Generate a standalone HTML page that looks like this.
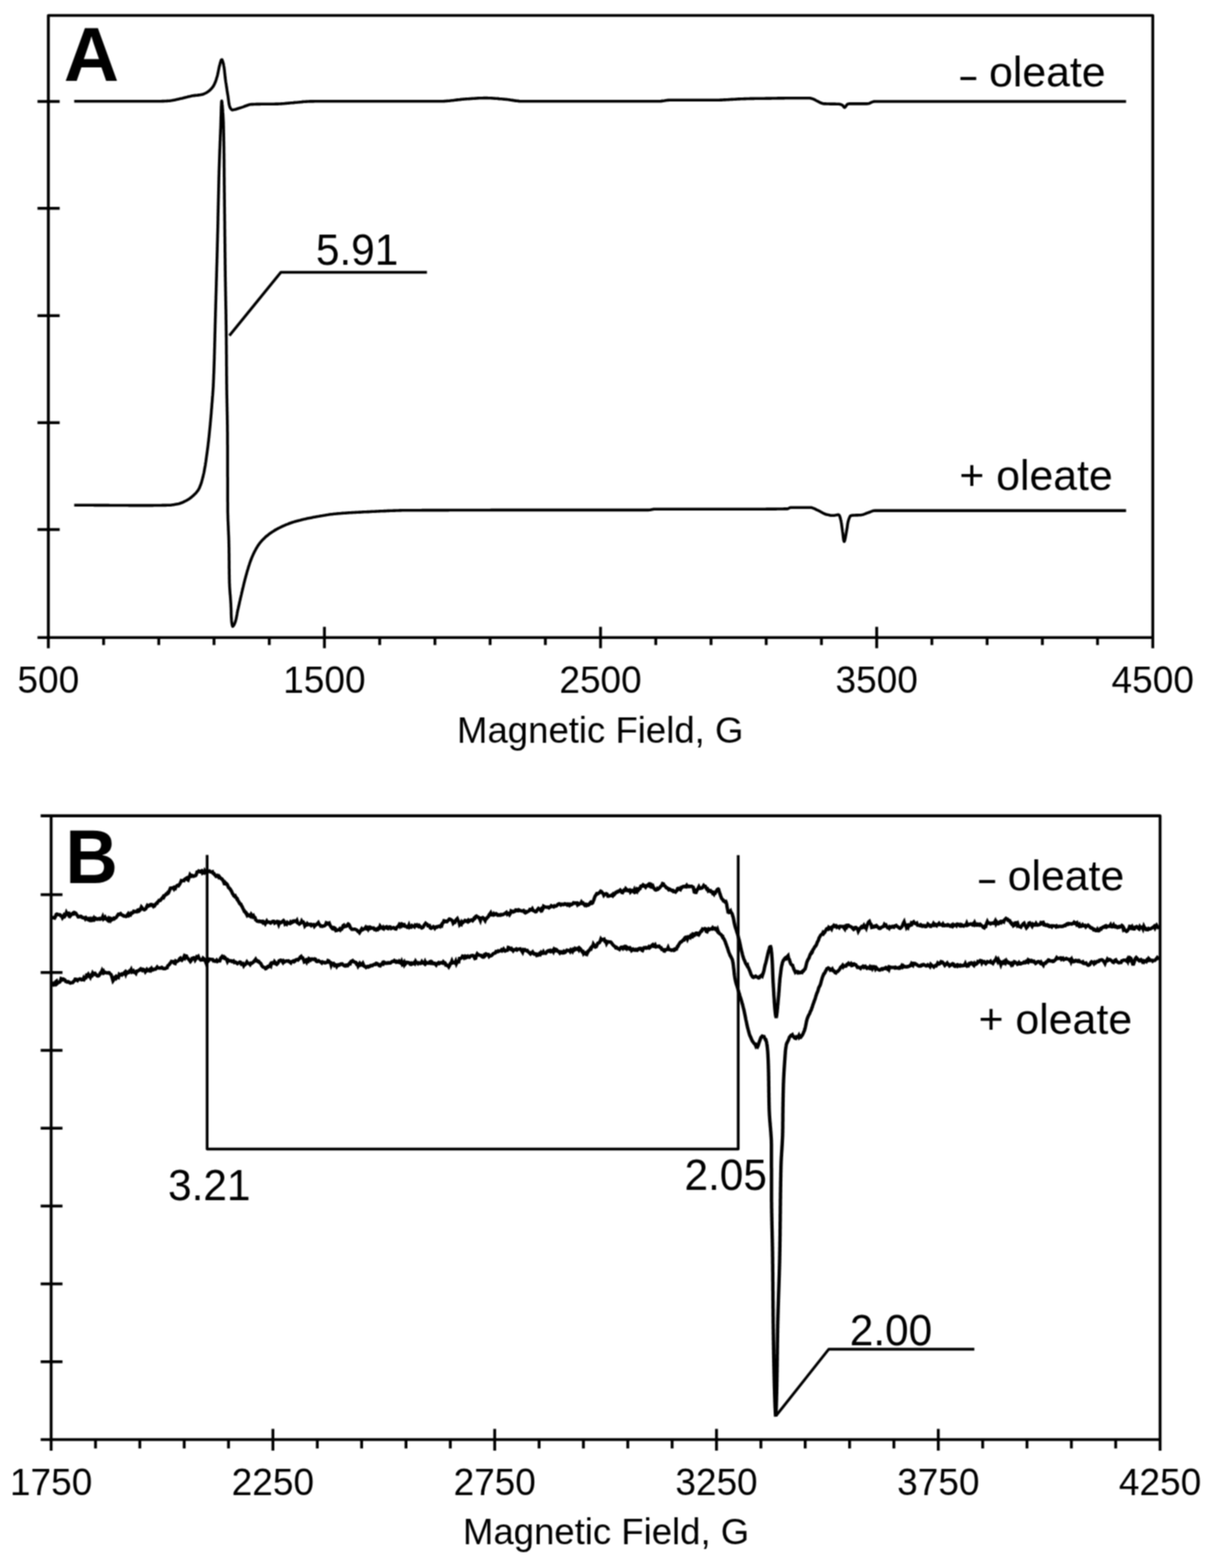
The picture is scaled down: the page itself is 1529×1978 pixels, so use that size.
<!DOCTYPE html>
<html lang="en">
<head>
<meta charset="utf-8">
<title>EPR spectra</title>
<style>
html,body{margin:0;padding:0;background:#fff;}
body{width:1529px;height:1978px;overflow:hidden;}
svg{display:block;}
text{font-family:"Liberation Sans",sans-serif;fill:#000;}
</style>
</head>
<body>
<svg width="1529" height="1978" viewBox="0 0 1529 1978">
<defs><filter id="soft" x="0" y="0" width="1529" height="1978" filterUnits="userSpaceOnUse" color-interpolation-filters="sRGB"><feConvolveMatrix order="3" kernelMatrix="1 2 1 2 4 2 1 2 1" divisor="16" edgeMode="duplicate" preserveAlpha="false"/></filter></defs>
<g filter="url(#soft)">
<rect x="0" y="0" width="1529" height="1978" fill="#fff"/>
<path d="M61 817.7 V19.5 H1454.3 V817.7" fill="none" stroke="#000" stroke-width="3.6" stroke-linejoin="round"/>
<line x1="47.3" y1="804.2" x2="1454.3" y2="804.2" stroke="#000" stroke-width="3.6"/>
<line x1="47.3" y1="128" x2="75.3" y2="128" stroke="#000" stroke-width="3.6"/>
<line x1="47.3" y1="262.8" x2="75.3" y2="262.8" stroke="#000" stroke-width="3.6"/>
<line x1="47.3" y1="398.2" x2="75.3" y2="398.2" stroke="#000" stroke-width="3.6"/>
<line x1="47.3" y1="533.2" x2="75.3" y2="533.2" stroke="#000" stroke-width="3.6"/>
<line x1="47.3" y1="668" x2="75.3" y2="668" stroke="#000" stroke-width="3.6"/>
<line x1="130.7" y1="804.2" x2="130.7" y2="813.7" stroke="#000" stroke-width="3.6"/>
<line x1="200.3" y1="804.2" x2="200.3" y2="813.7" stroke="#000" stroke-width="3.6"/>
<line x1="270" y1="804.2" x2="270" y2="813.7" stroke="#000" stroke-width="3.6"/>
<line x1="339.7" y1="804.2" x2="339.7" y2="813.7" stroke="#000" stroke-width="3.6"/>
<line x1="409.3" y1="790.7" x2="409.3" y2="817.7" stroke="#000" stroke-width="3.6"/>
<line x1="479" y1="804.2" x2="479" y2="813.7" stroke="#000" stroke-width="3.6"/>
<line x1="548.7" y1="804.2" x2="548.7" y2="813.7" stroke="#000" stroke-width="3.6"/>
<line x1="618.3" y1="804.2" x2="618.3" y2="813.7" stroke="#000" stroke-width="3.6"/>
<line x1="688" y1="804.2" x2="688" y2="813.7" stroke="#000" stroke-width="3.6"/>
<line x1="757.6" y1="790.7" x2="757.6" y2="817.7" stroke="#000" stroke-width="3.6"/>
<line x1="827.3" y1="804.2" x2="827.3" y2="813.7" stroke="#000" stroke-width="3.6"/>
<line x1="897" y1="804.2" x2="897" y2="813.7" stroke="#000" stroke-width="3.6"/>
<line x1="966.6" y1="804.2" x2="966.6" y2="813.7" stroke="#000" stroke-width="3.6"/>
<line x1="1036.3" y1="804.2" x2="1036.3" y2="813.7" stroke="#000" stroke-width="3.6"/>
<line x1="1106" y1="790.7" x2="1106" y2="817.7" stroke="#000" stroke-width="3.6"/>
<line x1="1175.6" y1="804.2" x2="1175.6" y2="813.7" stroke="#000" stroke-width="3.6"/>
<line x1="1245.3" y1="804.2" x2="1245.3" y2="813.7" stroke="#000" stroke-width="3.6"/>
<line x1="1315" y1="804.2" x2="1315" y2="813.7" stroke="#000" stroke-width="3.6"/>
<line x1="1384.6" y1="804.2" x2="1384.6" y2="813.7" stroke="#000" stroke-width="3.6"/>
<text x="0" y="0" font-size="46.7" text-anchor="middle" font-weight="normal" transform="translate(61 873.6) scale(1.0 1.045)" >500</text>
<text x="0" y="0" font-size="46.7" text-anchor="middle" font-weight="normal" transform="translate(409.3 873.6) scale(1.0 1.045)" >1500</text>
<text x="0" y="0" font-size="46.7" text-anchor="middle" font-weight="normal" transform="translate(757.6 873.6) scale(1.0 1.045)" >2500</text>
<text x="0" y="0" font-size="46.7" text-anchor="middle" font-weight="normal" transform="translate(1106 873.6) scale(1.0 1.045)" >3500</text>
<text x="0" y="0" font-size="46.7" text-anchor="middle" font-weight="normal" transform="translate(1454.3 873.6) scale(1.0 1.045)" >4500</text>
<text x="757.2" y="937" font-size="46.1" text-anchor="middle" font-weight="normal" >Magnetic Field, G</text>
<text x="0" y="0" font-size="93" text-anchor="start" font-weight="bold" transform="translate(80.6 101.9) scale(1.037 1.04)" >A</text>
<polyline points="93.6,127.8 95.1,127.8 96.6,127.8 98.1,127.8 99.6,127.8 101.1,127.8 102.6,127.8 104.1,127.8 105.6,127.8 107.1,127.8 108.6,127.8 110.1,127.8 111.6,127.8 113.1,127.8 114.6,127.8 116.1,127.8 117.6,127.8 119.1,127.8 120.6,127.8 122.1,127.8 123.7,127.8 125.2,127.8 126.7,127.8 128.2,127.8 129.7,127.8 131.2,127.8 132.7,127.8 134.2,127.8 135.7,127.8 137.2,127.8 138.7,127.8 140.2,127.8 141.7,127.8 143.2,127.8 144.7,127.8 146.2,127.8 147.7,127.8 149.2,127.8 150.7,127.8 152.2,127.8 153.7,127.8 155.2,127.8 156.7,127.8 158.2,127.8 159.7,127.8 161.2,127.8 162.7,127.8 164.2,127.8 165.7,127.8 167.2,127.8 168.7,127.8 170.2,127.8 171.7,127.8 173.2,127.8 174.7,127.8 176.2,127.8 177.7,127.8 179.2,127.8 180.8,127.8 182.3,127.8 183.8,127.8 185.3,127.8 186.8,127.7 188.3,127.7 189.8,127.7 191.3,127.7 192.8,127.7 194.3,127.7 195.8,127.7 197.3,127.7 198.8,127.7 200.3,127.7 201.8,127.7 203.3,127.7 204.8,127.6 206.3,127.6 207.8,127.5 209.3,127.5 210.8,127.4 212.3,127.3 213.8,127.2 215.3,127 216.7,126.8 218.2,126.5 219.7,126.2 221.2,125.9 222.7,125.6 224.1,125.2 225.6,124.9 227.1,124.6 228.5,124.3 230,124 231.5,123.6 232.9,123.2 234.4,122.8 235.8,122.5 237.3,122.1 238.8,121.7 240.2,121.4 241.7,121.1 243.2,120.8 244.7,120.6 246.2,120.4 247.7,120.2 249.2,120.1 250.7,119.9 252.2,119.7 253.6,119.4 255.1,119.2 256.5,118.8 257.9,118.2 259.3,117.5 260.6,116.8 261.9,116 263.1,115.1 264.3,114.2 265.4,113.2 266.5,112.1 267.5,110.9 268.5,109.7 269.3,108.5 270,107.2 270.6,105.9 271.2,104.6 271.8,103.2 272.3,101.7 272.8,100.3 273.2,98.8 273.7,97.3 274.1,95.9 274.5,94.4 274.8,93 275.1,91.5 275.4,90 275.7,88.5 276,87.1 276.3,85.6 276.6,84.1 277,82.7 277.4,81.2 277.8,79.5 278.4,77.7 278.9,76.1 279.5,75.2 280.1,75.3 280.6,76.5 281.2,78.2 281.7,80 282.1,81.7 282.3,83.1 282.6,84.6 282.8,86.1 283,87.5 283.2,89 283.3,90.5 283.5,92 283.6,93.5 283.8,95 284,96.6 284.1,98.1 284.3,99.5 284.5,101 284.7,102.5 284.9,104 285.2,105.5 285.4,107 285.6,108.5 285.8,110 286.1,111.4 286.3,112.9 286.5,114.4 286.7,115.9 287,117.4 287.2,118.9 287.5,120.3 287.7,121.8 287.9,123.4 288.1,124.9 288.3,126.5 288.5,128 288.7,129.5 288.9,131 289.2,132.4 289.6,133.8 290,135.1 290.8,136.7 291.8,138 292.9,138.7 294.1,138.6 295.5,138.3 297,138 298.5,137.5 300.1,137 301.6,136.5 303.1,136.1 304.5,135.6 306,135.1 307.4,134.6 308.8,134 310.3,133.5 311.7,133 313.1,132.5 314.6,132.1 316,131.8 317.5,131.6 318.9,131.6 320.4,131.5 321.9,131.5 323.4,131.4 324.9,131.4 326.3,131.4 327.8,131.4 329.3,131.3 330.9,131.3 332.4,131.3 333.9,131.3 335.4,131.3 336.9,131.3 338.4,131.2 339.9,131.2 341.4,131.2 342.9,131.2 344.5,131.2 346,131.2 347.5,131.1 349,131.1 350.5,131.1 352,131 353.5,131 355,130.9 356.5,130.8 358,130.7 359.5,130.5 361,130.4 362.5,130.3 364,130.1 365.5,130 367,129.8 368.5,129.7 370,129.6 371.5,129.4 373,129.3 374.5,129.2 376,129 377.5,128.9 379,128.7 380.5,128.6 382,128.4 383.5,128.3 384.9,128.2 386.4,128.1 387.9,128 389.4,128 390.9,127.9 392.4,127.9 393.9,127.9 395.4,127.9 396.9,127.8 398.5,127.8 400,127.8 401.5,127.8 403,127.8 404.5,127.8 406,127.8 407.5,127.7 409,127.7 410.5,127.7 412,127.7 413.5,127.7 415,127.7 416.5,127.7 418,127.7 419.5,127.7 421,127.7 422.5,127.7 424,127.7 425.5,127.7 427,127.7 428.5,127.7 430,127.7 431.5,127.7 433,127.7 434.5,127.7 436,127.7 437.5,127.7 439,127.7 440.5,127.7 442,127.7 443.5,127.7 445,127.7 446.5,127.7 448.1,127.7 449.6,127.7 451.1,127.7 452.6,127.7 454.1,127.7 455.6,127.7 457.1,127.7 458.6,127.7 460.1,127.7 461.6,127.7 463.1,127.7 464.6,127.7 466.1,127.7 467.6,127.7 469.1,127.7 470.6,127.7 472.1,127.7 473.6,127.7 475.1,127.7 476.6,127.7 478.1,127.7 479.6,127.7 481.1,127.7 482.6,127.7 484.1,127.7 485.6,127.7 487.2,127.7 488.7,127.7 490.2,127.7 491.7,127.7 493.2,127.7 494.7,127.7 496.2,127.7 497.7,127.7 499.2,127.7 500.7,127.7 502.2,127.7 503.7,127.7 505.2,127.7 506.7,127.7 508.2,127.7 509.7,127.7 511.2,127.7 512.7,127.7 514.2,127.7 515.7,127.7 517.2,127.7 518.7,127.7 520.2,127.7 521.7,127.7 523.2,127.7 524.7,127.7 526.2,127.7 527.7,127.7 529.2,127.7 530.7,127.7 532.2,127.7 533.7,127.7 535.2,127.7 536.7,127.7 538.2,127.7 539.7,127.7 541.2,127.7 542.7,127.7 544.2,127.7 545.7,127.7 547.2,127.7 548.7,127.7 550.2,127.7 551.7,127.7 553.2,127.7 554.7,127.7 556.2,127.7 557.7,127.7 559.2,127.7 560.7,127.6 562.2,127.5 563.7,127.4 565.2,127.3 566.7,127.2 568.2,127 569.7,126.8 571.2,126.7 572.7,126.5 574.2,126.3 575.7,126.1 577.2,125.9 578.7,125.7 580.2,125.6 581.7,125.4 583.2,125.3 584.7,125.1 586.2,125 587.7,124.9 589.2,124.8 590.7,124.7 592.2,124.6 593.7,124.5 595.2,124.4 596.7,124.3 598.2,124.2 599.7,124.1 601.2,124 602.7,123.9 604.2,123.8 605.7,123.8 607.2,123.7 608.7,123.7 610.2,123.6 611.7,123.6 613.2,123.6 614.7,123.6 616.2,123.7 617.7,123.7 619.2,123.8 620.7,123.9 622.2,124 623.7,124.1 625.2,124.2 626.7,124.3 628.2,124.4 629.7,124.6 631.2,124.7 632.7,124.8 634.2,125 635.7,125.1 637.1,125.3 638.6,125.4 640.1,125.5 641.6,125.7 643.1,125.9 644.6,126.2 646.1,126.4 647.6,126.6 649.1,126.9 650.6,127.1 652.1,127.3 653.6,127.4 655.1,127.6 656.5,127.7 658,127.7 659.5,127.7 661,127.7 662.5,127.7 664,127.7 665.5,127.7 667,127.7 668.5,127.7 670,127.7 671.5,127.7 673,127.7 674.5,127.7 676,127.7 677.5,127.7 679,127.7 680.5,127.7 682,127.7 683.5,127.7 685,127.7 686.5,127.7 688,127.7 689.5,127.7 691,127.7 692.5,127.7 694,127.7 695.5,127.7 697,127.7 698.5,127.7 700,127.7 701.5,127.7 703,127.7 704.5,127.7 706.1,127.7 707.6,127.7 709.1,127.7 710.6,127.7 712.1,127.7 713.6,127.7 715.1,127.7 716.6,127.7 718.1,127.7 719.6,127.7 721.1,127.7 722.6,127.7 724.1,127.7 725.6,127.7 727.1,127.7 728.6,127.7 730.1,127.7 731.6,127.7 733.1,127.7 734.6,127.7 736.1,127.7 737.7,127.7 739.2,127.7 740.7,127.7 742.2,127.7 743.7,127.7 745.2,127.7 746.7,127.7 748.2,127.7 749.7,127.7 751.2,127.7 752.7,127.7 754.2,127.7 755.7,127.7 757.2,127.7 758.7,127.7 760.2,127.7 761.7,127.7 763.2,127.7 764.7,127.7 766.3,127.7 767.8,127.7 769.3,127.7 770.8,127.7 772.3,127.7 773.8,127.7 775.3,127.7 776.8,127.7 778.3,127.7 779.8,127.7 781.3,127.7 782.8,127.7 784.3,127.7 785.8,127.7 787.3,127.7 788.8,127.7 790.3,127.7 791.8,127.7 793.3,127.7 794.8,127.7 796.3,127.7 797.8,127.7 799.3,127.7 800.8,127.7 802.3,127.7 803.8,127.7 805.3,127.7 806.9,127.7 808.4,127.7 809.9,127.7 811.4,127.7 812.9,127.7 814.4,127.7 815.9,127.7 817.4,127.7 818.9,127.7 820.4,127.7 821.9,127.7 823.4,127.7 824.8,127.7 826.3,127.7 827.8,127.7 829.3,127.7 830.8,127.7 832.3,127.7 833.8,127.6 835.3,127.4 836.8,127.2 838.3,127 839.8,126.7 841.3,126.5 842.8,126.4 844.3,126.3 845.8,126.3 847.3,126.3 848.8,126.3 850.3,126.3 851.8,126.3 853.3,126.3 854.8,126.3 856.3,126.3 857.8,126.3 859.3,126.3 860.8,126.3 862.3,126.3 863.8,126.3 865.3,126.3 866.8,126.3 868.3,126.3 869.8,126.3 871.3,126.3 872.8,126.3 874.3,126.3 875.8,126.3 877.3,126.3 878.8,126.3 880.3,126.3 881.8,126.3 883.3,126.3 884.8,126.3 886.4,126.3 887.9,126.3 889.4,126.3 890.9,126.3 892.4,126.3 893.9,126.3 895.4,126.3 896.9,126.3 898.4,126.3 899.9,126.3 901.4,126.3 902.9,126.3 904.4,126.3 905.9,126.2 907.4,126.2 908.9,126.1 910.4,126.1 911.9,126 913.4,125.9 914.9,125.9 916.4,125.8 917.9,125.7 919.4,125.6 920.9,125.5 922.4,125.4 923.9,125.4 925.4,125.3 926.9,125.2 928.4,125.1 929.9,125 931.4,124.9 932.9,124.9 934.4,124.8 935.9,124.7 937.4,124.7 938.9,124.6 940.4,124.6 941.9,124.5 943.4,124.5 944.9,124.5 946.4,124.4 947.9,124.4 949.4,124.4 951,124.4 952.5,124.3 954,124.3 955.5,124.3 957,124.3 958.5,124.2 960,124.2 961.6,124.2 963.1,124.2 964.6,124.2 966.1,124.1 967.6,124.1 969.2,124.1 970.7,124.1 972.2,124.1 973.7,124 975.2,124 976.8,124 978.3,124 979.8,124 981.3,123.9 982.8,123.9 984.4,123.9 985.9,123.9 987.4,123.9 988.9,123.9 990.4,123.8 991.9,123.8 993.4,123.8 994.9,123.8 996.4,123.8 997.9,123.8 999.4,123.8 1000.9,123.8 1002.4,123.8 1003.9,123.7 1005.4,123.7 1006.9,123.7 1008.3,123.7 1009.8,123.7 1011.3,123.7 1012.8,123.7 1014.2,123.7 1015.7,123.7 1017.2,123.7 1018.6,123.7 1020.1,123.7 1021.5,123.7 1022.9,124 1024.4,124.4 1025.8,124.9 1027.2,125.5 1028.6,126.2 1029.9,127 1031.3,127.7 1032.7,128.4 1034.1,129.1 1035.5,129.8 1037,130.3 1038.4,130.7 1039.8,130.9 1041.3,130.9 1042.8,131 1044.3,131 1045.8,131 1047.3,131.1 1048.8,131.1 1050.3,131.1 1051.8,131.1 1053.4,131.1 1054.9,131.2 1056.4,131.2 1057.8,131.3 1059.3,131.4 1060.8,131.8 1062.2,132.4 1063.4,133.3 1064.4,134.8 1065.4,135.6 1066.4,135 1067.3,133.6 1068.3,132.2 1069.5,131.3 1071,130.9 1072.4,130.9 1073.8,130.9 1075.3,130.9 1076.8,130.9 1078.3,130.9 1079.8,130.9 1081.4,130.9 1082.9,130.9 1084.4,130.9 1086,130.9 1087.5,130.9 1089,130.9 1090.5,130.9 1092,130.9 1093.5,130.9 1095,130.8 1096.4,130.5 1097.8,129.9 1099.2,129.2 1100.7,128.6 1102.1,128.1 1103.5,128 1105,128 1106.5,128 1107.9,128 1109.4,128 1110.9,128 1112.3,128 1113.8,128 1115.3,128 1116.8,128 1118.2,128 1119.7,128 1121.2,128 1122.7,128 1124.2,128 1125.7,128 1127.2,128 1128.7,128 1130.2,128 1131.7,128 1133.2,128 1134.7,128 1136.2,128 1137.7,128 1139.2,128 1140.7,128 1142.2,128 1143.7,128 1145.2,128 1146.7,128 1148.2,128 1149.7,128 1151.3,128 1152.8,128 1154.3,128 1155.8,128 1157.3,128 1158.8,128 1160.4,128 1161.9,128 1163.4,128 1164.9,128 1166.4,128 1167.9,128 1169.5,128 1171,128 1172.5,128 1174,128 1175.5,128 1177.1,128 1178.6,128 1180.1,128 1181.6,128 1183.1,128 1184.6,128 1186.1,128 1187.7,128 1189.2,128 1190.7,128 1192.2,128 1193.7,128 1195.2,128 1196.7,128 1198.2,128 1199.7,128 1201.2,128 1202.7,128 1204.2,128 1205.7,128 1207.2,128 1208.7,128 1210.2,128 1211.7,128 1213.2,128 1214.7,128 1216.3,128 1217.8,128 1219.3,128 1220.8,128 1222.3,128 1223.8,128 1225.3,128 1226.8,128 1228.3,128 1229.8,128 1231.3,128 1232.8,128 1234.3,128 1235.8,128 1237.3,128 1238.8,128 1240.3,128 1241.8,128 1243.3,128 1244.8,128 1246.3,128 1247.8,128 1249.3,128 1250.8,128 1252.3,128 1253.8,128 1255.3,128 1256.8,128 1258.3,128 1259.8,128 1261.3,128 1262.8,128 1264.3,128 1265.8,128 1267.3,128 1268.8,128 1270.3,128 1271.8,128 1273.3,128 1274.9,128 1276.4,128 1277.9,128 1279.4,128 1280.9,128 1282.4,128 1283.9,128 1285.4,128 1286.9,128 1288.4,128 1289.9,128 1291.4,128 1292.9,128 1294.4,128 1295.9,128 1297.4,128 1298.9,128 1300.4,128 1301.9,128 1303.4,128 1304.9,128 1306.4,128 1307.9,128 1309.4,128 1310.9,128 1312.4,128 1313.9,128 1315.4,128 1316.9,128 1318.4,128 1319.9,128 1321.4,128 1322.9,128 1324.4,128 1325.9,128 1327.4,128 1328.9,128 1330.4,128 1331.9,128 1333.5,128 1335,128 1336.5,128 1338,128 1339.5,128 1341,128 1342.5,128 1344,128 1345.5,128 1347,128 1348.5,128 1350,128 1351.5,128 1353,128 1354.5,128 1356,128 1357.5,128 1359,128 1360.5,128 1362,128 1363.5,128 1365,128 1366.5,128 1368,128 1369.5,128 1371,128 1372.5,128 1374,128 1375.5,128 1377,128 1378.5,128 1380,128 1381.5,128 1383,128 1384.5,128 1386,128 1387.5,128 1389,128 1390.5,128 1392.1,128 1393.6,128 1395.1,128 1396.6,128 1398.1,128 1399.6,128 1401.1,128 1402.6,128 1404.1,128 1405.6,128 1407.1,128 1408.6,128 1410.1,128 1411.6,128 1413.1,128 1414.6,128 1416.1,128 1417.6,128 1419.1,128 1420.6,128" fill="none" stroke="#000" stroke-width="3.6" stroke-linejoin="round" stroke-linecap="butt" />
<polyline points="93.6,637.2 95.1,637.2 96.6,637.2 98.1,637.2 99.6,637.2 101.1,637.2 102.6,637.3 104.1,637.3 105.6,637.3 107.1,637.3 108.6,637.3 110.1,637.3 111.6,637.3 113.1,637.3 114.6,637.3 116.1,637.3 117.6,637.3 119.1,637.4 120.6,637.4 122.1,637.4 123.6,637.4 125.1,637.4 126.6,637.4 128.1,637.4 129.6,637.4 131.1,637.4 132.6,637.4 134.1,637.4 135.6,637.4 137.1,637.4 138.6,637.5 140.1,637.5 141.6,637.5 143.1,637.5 144.6,637.5 146.2,637.5 147.7,637.5 149.2,637.5 150.7,637.5 152.2,637.5 153.7,637.5 155.2,637.5 156.7,637.5 158.2,637.5 159.7,637.5 161.2,637.5 162.7,637.6 164.2,637.6 165.7,637.6 167.2,637.6 168.7,637.6 170.2,637.6 171.7,637.6 173.2,637.6 174.7,637.6 176.2,637.6 177.7,637.6 179.2,637.6 180.7,637.6 182.2,637.6 183.7,637.6 185.2,637.6 186.7,637.6 188.2,637.6 189.7,637.6 191.2,637.6 192.7,637.6 194.2,637.5 195.7,637.5 197.2,637.5 198.7,637.5 200.2,637.5 201.7,637.5 203.2,637.5 204.7,637.4 206.2,637.4 207.7,637.4 209.2,637.4 210.7,637.3 212.2,637.3 213.7,637.3 215.2,637.2 216.7,637 218.2,636.8 219.7,636.6 221.2,636.3 222.7,636 224.2,635.7 225.6,635.4 227,635 228.4,634.5 229.8,634 231.3,633.4 232.6,632.7 234,632 235.4,631.3 236.7,630.5 238,629.7 239.2,628.9 240.4,628 241.5,627.2 242.7,626.2 243.9,625.2 245,624.1 246.1,623 247.2,621.9 248.2,620.7 249.1,619.5 250,618.3 250.7,617 251.4,615.8 252,614.5 252.5,613.1 253.1,611.8 253.6,610.3 254.1,608.9 254.5,607.4 254.9,605.9 255.3,604.4 255.7,602.9 256.1,601.5 256.4,600 256.7,598.6 257.1,597.1 257.4,595.6 257.7,594.2 257.9,592.7 258.2,591.2 258.5,589.7 258.7,588.3 259,586.8 259.2,585.3 259.4,583.8 259.7,582.3 259.9,580.8 260.1,579.3 260.3,577.8 260.5,576.3 260.7,574.8 260.9,573.4 261.1,571.9 261.3,570.4 261.5,568.9 261.7,567.4 261.9,565.9 262.1,564.4 262.3,562.9 262.5,561.5 262.6,560 262.8,558.5 263,557 263.2,555.5 263.3,554 263.5,552.5 263.7,551 263.8,549.5 264,548 264.1,546.5 264.3,545 264.4,543.5 264.6,542 264.7,540.5 264.9,539.1 265,537.6 265.2,536.1 265.3,534.6 265.4,533.1 265.6,531.6 265.7,530.1 265.8,528.6 266,527.1 266.1,525.6 266.2,524.1 266.4,522.6 266.5,521.1 266.6,519.6 266.7,518.1 266.8,516.6 267,515.1 267.1,513.6 267.2,512.1 267.3,510.6 267.4,509.1 267.6,507.6 267.7,506.1 267.8,504.6 267.9,503.1 268,501.6 268.1,500.2 268.3,498.7 268.4,497.2 268.5,495.7 268.6,494.2 268.7,492.7 268.8,491.2 268.9,489.7 269,488.2 269.1,486.7 269.1,485.2 269.2,483.7 269.3,482.2 269.3,480.7 269.4,479.2 269.5,477.7 269.5,476.2 269.6,474.7 269.6,473.2 269.7,471.7 269.8,470.2 269.8,468.7 269.9,467.2 269.9,465.7 270,464.2 270,462.7 270.1,461.2 270.1,459.7 270.2,458.2 270.2,456.7 270.3,455.2 270.3,453.7 270.4,452.2 270.4,450.7 270.4,449.2 270.5,447.7 270.5,446.2 270.6,444.7 270.6,443.2 270.6,441.7 270.7,440.2 270.7,438.7 270.8,437.2 270.8,435.7 270.8,434.2 270.9,432.7 270.9,431.2 271,429.7 271,428.2 271,426.6 271.1,425.1 271.1,423.6 271.1,422.1 271.2,420.6 271.2,419.1 271.3,417.6 271.3,416.1 271.3,414.6 271.4,413.1 271.4,411.6 271.4,410.1 271.5,408.6 271.5,407.1 271.6,405.6 271.6,404.1 271.6,402.6 271.7,401.1 271.7,399.6 271.8,398.1 271.8,396.6 271.8,395.1 271.9,393.6 271.9,392.1 272,390.6 272,389.1 272.1,387.6 272.1,386.1 272.1,384.6 272.2,383.1 272.2,381.6 272.3,380.1 272.3,378.6 272.4,377.1 272.4,375.6 272.4,374.1 272.5,372.6 272.5,371.1 272.6,369.6 272.6,368.1 272.7,366.6 272.7,365.1 272.7,363.6 272.8,362.1 272.8,360.6 272.9,359.1 272.9,357.6 272.9,356.1 273,354.6 273,353.1 273.1,351.6 273.1,350.1 273.2,348.6 273.2,347.1 273.2,345.6 273.3,344.1 273.3,342.6 273.4,341.1 273.4,339.6 273.4,338.1 273.5,336.6 273.5,335.1 273.6,333.6 273.6,332.1 273.7,330.6 273.7,329.1 273.7,327.6 273.8,326.1 273.8,324.6 273.9,323.1 273.9,321.6 273.9,320.1 274,318.6 274,317.1 274.1,315.6 274.1,314.1 274.1,312.6 274.2,311.1 274.2,309.6 274.2,308.1 274.3,306.6 274.3,305.1 274.4,303.6 274.4,302.1 274.4,300.6 274.5,299.1 274.5,297.6 274.5,296.1 274.6,294.6 274.6,293.1 274.7,291.6 274.7,290.1 274.7,288.6 274.8,287.1 274.8,285.6 274.8,284.1 274.9,282.6 274.9,281.1 274.9,279.5 275,278 275,276.5 275,275 275,273.5 275.1,272 275.1,270.5 275.1,269 275.2,267.5 275.2,266 275.2,264.5 275.3,263 275.3,261.5 275.3,260 275.4,258.5 275.4,257 275.4,255.5 275.5,254 275.5,252.5 275.5,251 275.6,249.5 275.6,248 275.6,246.5 275.7,245 275.7,243.5 275.7,242 275.8,240.5 275.8,239 275.8,237.5 275.9,236 275.9,234.5 275.9,233 276,231.5 276,230 276,228.5 276.1,227 276.1,225.5 276.1,224 276.2,222.5 276.2,221 276.3,219.5 276.3,218 276.3,216.5 276.4,215 276.4,213.5 276.5,212 276.5,210.5 276.6,209 276.6,207.5 276.7,206 276.7,204.5 276.8,203 276.8,201.5 276.9,200 276.9,198.5 277,197 277,195.5 277.1,194 277.1,192.5 277.2,191 277.2,189.5 277.3,188 277.4,186.5 277.4,185 277.5,183.5 277.5,182 277.6,180.5 277.6,179 277.7,177.5 277.8,176 277.8,174.5 277.9,173 277.9,171.5 278,170 278.1,168.5 278.1,167 278.2,165.5 278.2,164 278.3,162.5 278.4,161 278.4,159.5 278.5,157.9 278.5,156.1 278.6,154.3 278.6,152.4 278.7,150.5 278.7,148.5 278.8,146.5 278.9,144.5 278.9,142.6 279,140.6 279,138.7 279.1,136.9 279.1,135.2 279.2,133.6 279.3,132.2 279.3,130.9 279.4,129.8 279.4,128.8 279.5,128.1 279.6,127.6 279.7,127.3 279.7,127.3 279.8,127.7 279.9,128.2 280.1,129.1 280.2,130.1 280.3,131.4 280.5,132.8 280.6,134.4 280.7,136.1 280.9,137.9 281,139.8 281.1,141.7 281.3,143.7 281.4,145.7 281.5,147.7 281.6,149.6 281.7,151.5 281.8,153.3 281.9,155 281.9,156.6 281.9,158.1 282,159.6 282,161.1 282,162.6 282.1,164.1 282.1,165.6 282.1,167.1 282.2,168.6 282.2,170.1 282.2,171.6 282.3,173.1 282.3,174.6 282.3,176.1 282.3,177.6 282.4,179.1 282.4,180.6 282.4,182.1 282.4,183.6 282.5,185.1 282.5,186.6 282.5,188.1 282.5,189.6 282.5,191.1 282.5,192.6 282.6,194.1 282.6,195.6 282.6,197.1 282.6,198.6 282.6,200.1 282.7,201.6 282.7,203.1 282.7,204.6 282.7,206.1 282.7,207.6 282.7,209.1 282.7,210.6 282.8,212.1 282.8,213.6 282.8,215.1 282.8,216.6 282.8,218.1 282.8,219.6 282.8,221.1 282.8,222.6 282.9,224.1 282.9,225.6 282.9,227.1 282.9,228.6 282.9,230.1 282.9,231.6 282.9,233.1 283,234.6 283,236.1 283,237.6 283,239.1 283,240.6 283,242.1 283.1,243.6 283.1,245.1 283.1,246.6 283.1,248.1 283.1,249.6 283.1,251.2 283.2,252.7 283.2,254.2 283.2,255.7 283.2,257.2 283.2,258.7 283.2,260.2 283.3,261.7 283.3,263.2 283.3,264.7 283.3,266.2 283.3,267.7 283.3,269.2 283.4,270.7 283.4,272.2 283.4,273.7 283.4,275.2 283.4,276.7 283.4,278.2 283.5,279.7 283.5,281.2 283.5,282.7 283.5,284.2 283.5,285.7 283.5,287.2 283.5,288.7 283.6,290.2 283.6,291.7 283.6,293.2 283.6,294.7 283.6,296.2 283.6,297.7 283.7,299.2 283.7,300.7 283.7,302.2 283.7,303.7 283.7,305.2 283.7,306.7 283.8,308.2 283.8,309.7 283.8,311.2 283.8,312.7 283.8,314.2 283.8,315.7 283.8,317.2 283.9,318.7 283.9,320.2 283.9,321.7 283.9,323.2 283.9,324.7 284,326.2 284,327.7 284,329.2 284,330.7 284,332.2 284,333.7 284.1,335.2 284.1,336.7 284.1,338.2 284.1,339.7 284.1,341.2 284.2,342.7 284.2,344.2 284.2,345.7 284.2,347.2 284.2,348.7 284.3,350.2 284.3,351.7 284.3,353.2 284.3,354.7 284.4,356.2 284.4,357.7 284.4,359.2 284.4,360.8 284.5,362.3 284.5,363.8 284.5,365.3 284.5,366.8 284.6,368.3 284.6,369.8 284.6,371.3 284.6,372.8 284.7,374.3 284.7,375.8 284.7,377.3 284.7,378.8 284.8,380.3 284.8,381.8 284.8,383.3 284.8,384.8 284.9,386.3 284.9,387.8 284.9,389.3 285,390.8 285,392.3 285,393.8 285,395.3 285.1,396.8 285.1,398.3 285.1,399.8 285.1,401.3 285.1,402.8 285.2,404.3 285.2,405.8 285.2,407.3 285.2,408.8 285.3,410.3 285.3,411.8 285.3,413.3 285.3,414.8 285.3,416.3 285.4,417.8 285.4,419.3 285.4,420.8 285.4,422.3 285.4,423.8 285.5,425.3 285.5,426.8 285.5,428.3 285.5,429.8 285.5,431.3 285.5,432.8 285.5,434.3 285.6,435.8 285.6,437.3 285.6,438.8 285.6,440.3 285.6,441.8 285.6,443.3 285.6,444.8 285.6,446.3 285.7,447.8 285.7,449.3 285.7,450.8 285.7,452.3 285.7,453.8 285.7,455.3 285.7,456.8 285.7,458.3 285.7,459.8 285.7,461.3 285.8,462.8 285.8,464.3 285.8,465.8 285.8,467.3 285.8,468.8 285.8,470.3 285.8,471.9 285.8,473.4 285.9,474.9 285.9,476.4 285.9,477.9 285.9,479.4 285.9,480.9 285.9,482.4 285.9,483.9 286,485.4 286,486.9 286,488.4 286,489.9 286,491.4 286.1,492.9 286.1,494.4 286.1,495.9 286.1,497.4 286.2,498.9 286.2,500.4 286.2,501.9 286.3,503.4 286.3,504.9 286.3,506.4 286.3,507.9 286.4,509.4 286.4,510.9 286.4,512.4 286.5,513.9 286.5,515.4 286.5,516.9 286.5,518.4 286.6,519.9 286.6,521.4 286.6,522.9 286.7,524.4 286.7,525.9 286.7,527.4 286.7,528.9 286.8,530.4 286.8,531.9 286.8,533.4 286.8,534.9 286.9,536.4 286.9,537.9 286.9,539.4 286.9,540.9 286.9,542.4 286.9,543.9 287,545.4 287,546.9 287,548.4 287,549.9 287,551.4 287,552.9 287,554.4 287,555.9 287,557.4 287,558.9 287,560.4 287.1,561.9 287.1,563.4 287.1,564.9 287.1,566.4 287.1,567.9 287.1,569.4 287.1,570.9 287.1,572.4 287.1,573.9 287.1,575.4 287.1,576.9 287.1,578.4 287.1,579.9 287.1,581.5 287.1,583 287.1,584.5 287.1,586 287.1,587.5 287.1,589 287.1,590.5 287.1,592 287.1,593.5 287.1,595 287.1,596.5 287.1,598 287.1,599.5 287.1,601 287.2,602.5 287.2,604 287.2,605.5 287.2,607 287.2,608.5 287.2,610 287.2,611.5 287.2,613 287.2,614.5 287.2,616 287.2,617.5 287.2,619 287.2,620.5 287.2,622 287.2,623.5 287.2,625 287.2,626.5 287.2,628 287.2,629.5 287.2,631 287.2,632.5 287.3,634 287.3,635.5 287.3,637 287.3,638.5 287.3,640 287.3,641.5 287.3,643 287.3,644.5 287.3,646 287.4,647.5 287.4,649 287.5,650.5 287.5,652 287.5,653.5 287.6,655 287.6,656.5 287.7,658 287.8,659.5 287.8,661 287.9,662.5 288,664 288,665.5 288.1,667 288.1,668.5 288.2,670 288.3,671.5 288.3,673 288.4,674.5 288.5,676 288.5,677.5 288.6,679 288.6,680.5 288.7,682 288.7,683.5 288.7,685 288.8,686.5 288.8,688 288.8,689.5 288.9,691 288.9,692.5 288.9,694 288.9,695.5 288.9,697 289,698.5 289,700 289,701.5 289,703 289,704.5 289,706 289.1,707.6 289.1,709.1 289.1,710.6 289.1,712.1 289.1,713.6 289.1,715.1 289.1,716.6 289.2,718.1 289.2,719.6 289.2,721.1 289.2,722.6 289.2,724.1 289.3,725.6 289.3,727.1 289.3,728.6 289.3,730.1 289.4,731.6 289.4,733.1 289.4,734.6 289.5,736.1 289.6,737.6 289.6,739.1 289.7,740.6 289.8,742.1 289.9,743.6 290,745.1 290.1,746.6 290.2,748.1 290.3,749.6 290.5,751.1 290.6,752.6 290.7,754 290.8,755.5 290.9,757 291,758.5 291.1,760 291.2,761.5 291.3,763 291.3,764.5 291.4,766 291.5,767.5 291.5,769 291.6,770.6 291.6,772.1 291.6,773.6 291.7,775.1 291.7,776.6 291.8,778.1 291.9,779.6 292,781.1 292.1,782.9 292.3,784.9 292.6,786.8 292.9,788.4 293.2,789.6 293.6,790.2 294.2,789.8 295.1,788.5 295.9,786.8 296.5,785.3 297,783.9 297.4,782.5 297.8,781 298.1,779.6 298.4,778.1 298.7,776.6 299,775.1 299.2,773.6 299.5,772.1 299.8,770.6 300.1,769.1 300.5,767.7 300.8,766.2 301.1,764.8 301.5,763.3 301.8,761.8 302.1,760.4 302.4,758.9 302.8,757.4 303.1,756 303.4,754.5 303.8,753 304.1,751.6 304.5,750.1 304.8,748.6 305.1,747.2 305.5,745.7 305.8,744.3 306.2,742.8 306.5,741.3 306.9,739.9 307.2,738.4 307.6,737 307.9,735.5 308.3,734 308.7,732.6 309,731.1 309.4,729.7 309.8,728.2 310.2,726.8 310.6,725.3 311,723.9 311.4,722.4 311.8,721 312.2,719.6 312.7,718.1 313.1,716.7 313.5,715.2 314,713.8 314.5,712.3 314.9,710.9 315.4,709.5 315.9,708.1 316.4,706.7 317,705.3 317.5,703.9 318.1,702.5 318.7,701.1 319.3,699.8 319.9,698.4 320.6,697 321.2,695.7 322,694.3 322.7,693 323.4,691.7 324.2,690.4 325,689.1 325.8,687.8 326.7,686.6 327.5,685.4 328.4,684.3 329.4,683.1 330.4,682 331.4,680.9 332.5,679.8 333.6,678.8 334.7,677.7 335.8,676.7 337,675.8 338.2,674.8 339.3,673.9 340.5,673 341.7,672.2 343,671.3 344.3,670.5 345.5,669.7 346.8,668.9 348.1,668.1 349.5,667.4 350.8,666.7 352.1,666 353.5,665.3 354.8,664.7 356.2,664 357.5,663.4 358.9,662.8 360.3,662.2 361.7,661.6 363.1,661.1 364.5,660.5 365.9,660 367.3,659.5 368.7,659 370.2,658.6 371.6,658.1 373,657.7 374.5,657.3 375.9,656.9 377.4,656.5 378.8,656.2 380.3,655.8 381.7,655.4 383.2,655.1 384.7,654.8 386.1,654.4 387.6,654.1 389.1,653.8 390.6,653.5 392,653.2 393.5,652.9 395,652.6 396.5,652.3 397.9,652.1 399.4,651.8 400.9,651.5 402.4,651.3 403.8,651 405.3,650.7 406.8,650.5 408.3,650.2 409.8,650 411.3,649.7 412.7,649.5 414.2,649.3 415.7,649 417.2,648.8 418.7,648.7 420.2,648.5 421.7,648.3 423.2,648.2 424.7,648 426.2,647.9 427.6,647.8 429.1,647.7 430.6,647.5 432.1,647.4 433.6,647.3 435.1,647.2 436.6,647.1 438.1,647 439.6,646.9 441.1,646.8 442.6,646.7 444.1,646.6 445.6,646.5 447.1,646.5 448.6,646.4 450.1,646.3 451.6,646.2 453.1,646.1 454.6,646.1 456.1,646 457.6,645.9 459.1,645.8 460.6,645.8 462.1,645.7 463.6,645.6 465.1,645.6 466.6,645.5 468.1,645.4 469.6,645.3 471.1,645.3 472.6,645.2 474.1,645.1 475.6,645 477.1,645 478.6,644.9 480.1,644.8 481.6,644.8 483.1,644.7 484.6,644.6 486.1,644.6 487.6,644.5 489.1,644.4 490.6,644.4 492.1,644.3 493.6,644.3 495.1,644.2 496.6,644.1 498.1,644.1 499.6,644 501.1,644 502.6,644 504.1,643.9 505.6,643.9 507.1,643.8 508.6,643.8 510.1,643.8 511.6,643.8 513.1,643.7 514.6,643.7 516.1,643.7 517.6,643.7 519.1,643.7 520.6,643.7 522.1,643.7 523.6,643.7 525.2,643.7 526.7,643.7 528.2,643.7 529.7,643.7 531.2,643.7 532.7,643.6 534.2,643.6 535.7,643.6 537.2,643.6 538.7,643.6 540.2,643.6 541.7,643.6 543.2,643.6 544.7,643.6 546.2,643.6 547.7,643.6 549.2,643.6 550.7,643.6 552.2,643.6 553.7,643.6 555.2,643.6 556.7,643.6 558.2,643.6 559.7,643.6 561.2,643.6 562.7,643.6 564.2,643.6 565.7,643.6 567.2,643.5 568.7,643.5 570.2,643.5 571.7,643.5 573.2,643.5 574.7,643.5 576.2,643.5 577.7,643.5 579.2,643.5 580.7,643.5 582.2,643.5 583.7,643.5 585.2,643.5 586.7,643.5 588.2,643.5 589.7,643.5 591.2,643.5 592.7,643.5 594.2,643.5 595.7,643.5 597.2,643.5 598.7,643.5 600.2,643.5 601.7,643.5 603.2,643.5 604.7,643.5 606.2,643.5 607.7,643.5 609.2,643.5 610.7,643.5 612.2,643.5 613.7,643.5 615.2,643.5 616.7,643.5 618.2,643.5 619.7,643.4 621.2,643.4 622.7,643.4 624.2,643.4 625.7,643.4 627.2,643.4 628.7,643.4 630.2,643.4 631.8,643.4 633.3,643.4 634.8,643.4 636.3,643.4 637.8,643.4 639.3,643.4 640.8,643.4 642.3,643.4 643.8,643.4 645.3,643.4 646.8,643.4 648.3,643.4 649.8,643.4 651.3,643.4 652.8,643.4 654.3,643.4 655.8,643.4 657.3,643.4 658.8,643.4 660.3,643.4 661.8,643.4 663.3,643.4 664.8,643.4 666.3,643.4 667.8,643.4 669.3,643.4 670.8,643.4 672.3,643.4 673.8,643.4 675.3,643.4 676.8,643.4 678.3,643.4 679.8,643.4 681.3,643.4 682.8,643.4 684.3,643.4 685.8,643.4 687.3,643.4 688.8,643.4 690.3,643.4 691.8,643.4 693.3,643.4 694.8,643.4 696.3,643.4 697.8,643.4 699.3,643.4 700.8,643.4 702.3,643.4 703.8,643.4 705.3,643.4 706.8,643.4 708.3,643.4 709.8,643.4 711.3,643.4 712.8,643.4 714.4,643.4 715.9,643.4 717.4,643.4 718.9,643.4 720.4,643.4 721.9,643.4 723.4,643.4 724.9,643.4 726.4,643.4 727.9,643.4 729.4,643.4 730.9,643.4 732.4,643.4 733.9,643.4 735.4,643.4 736.9,643.4 738.4,643.4 739.9,643.4 741.5,643.4 743,643.4 744.5,643.4 746,643.4 747.5,643.4 749,643.4 750.5,643.4 752,643.4 753.5,643.4 755,643.4 756.5,643.4 758,643.4 759.5,643.4 761,643.4 762.5,643.4 764,643.4 765.5,643.4 767,643.4 768.5,643.4 770.1,643.4 771.6,643.4 773.1,643.4 774.6,643.4 776.1,643.4 777.6,643.4 779.1,643.4 780.6,643.4 782.1,643.4 783.6,643.4 785.1,643.4 786.6,643.4 788.1,643.4 789.6,643.4 791.1,643.4 792.6,643.4 794.1,643.4 795.6,643.4 797.1,643.4 798.6,643.4 800,643.4 801.5,643.4 803,643.4 804.5,643.4 806,643.4 807.5,643.4 809,643.4 810.5,643.4 812,643.4 813.5,643.4 815,643.4 816.5,643.4 817.9,643.4 819.4,643.3 820.9,643.1 822.4,642.7 823.9,642.4 825.4,642.3 826.8,642.3 828.3,642.3 829.8,642.3 831.3,642.3 832.8,642.3 834.3,642.3 835.8,642.3 837.3,642.3 838.8,642.3 840.3,642.3 841.8,642.3 843.3,642.3 844.8,642.3 846.3,642.3 847.8,642.3 849.3,642.3 850.8,642.3 852.3,642.3 853.8,642.3 855.3,642.3 856.8,642.3 858.3,642.3 859.8,642.3 861.3,642.3 862.8,642.3 864.3,642.3 865.8,642.3 867.3,642.3 868.8,642.3 870.3,642.3 871.8,642.3 873.3,642.3 874.9,642.3 876.4,642.3 877.9,642.3 879.4,642.3 880.9,642.3 882.4,642.3 883.9,642.3 885.4,642.3 886.9,642.3 888.4,642.3 889.9,642.3 891.4,642.3 892.9,642.3 894.4,642.3 895.9,642.3 897.4,642.3 898.9,642.3 900.4,642.3 901.9,642.3 903.4,642.3 904.9,642.3 906.5,642.3 908,642.3 909.5,642.3 911,642.3 912.5,642.3 914,642.3 915.5,642.3 917.1,642.3 918.6,642.3 920.1,642.3 921.6,642.3 923.1,642.3 924.7,642.3 926.2,642.3 927.7,642.3 929.2,642.3 930.8,642.3 932.3,642.3 933.8,642.3 935.3,642.3 936.9,642.3 938.4,642.3 939.9,642.3 941.4,642.3 943,642.3 944.5,642.2 946,642.2 947.5,642.2 949,642.2 950.6,642.2 952.1,642.2 953.6,642.2 955.1,642.2 956.6,642.2 958.1,642.2 959.6,642.2 961.1,642.2 962.6,642.2 964.1,642.2 965.6,642.2 967.1,642.1 968.6,642.1 970.1,642.1 971.6,642.1 973.1,642.1 974.6,642.1 976,642.1 977.5,642.1 979,642.1 980.5,642 981.9,642 983.4,642 984.8,642 986.3,642 987.7,642 989.2,641.9 990.6,641.9 992.1,641.9 993.5,641.9 994.9,641.3 996.3,640.5 997.7,640.2 999.1,640.2 1000.6,640.2 1002.1,640.2 1003.6,640.2 1005.1,640.2 1006.6,640.2 1008.2,640.2 1009.7,640.2 1011.2,640.2 1012.7,640.2 1014.3,640.2 1015.8,640.2 1017.3,640.2 1018.8,640.2 1020.3,640.2 1021.7,640.2 1023.2,640.3 1024.6,640.6 1026,641.1 1027.4,641.7 1028.9,642.4 1030.2,643.1 1031.6,643.7 1033,644.3 1034.3,645 1035.7,645.8 1037,646.5 1038.3,647.3 1039.7,647.9 1041,648.5 1042.4,648.9 1043.9,649.3 1045.3,649.6 1046.8,649.9 1048.3,650.2 1049.8,650.3 1051.3,650.3 1053,650.1 1054.7,649.8 1056.2,649.5 1057.5,649.3 1058.3,649.5 1059.1,650.6 1059.7,652.2 1060.2,654 1060.6,655.7 1061,657.1 1061.2,658.6 1061.5,660 1061.7,661.5 1061.9,663 1062.1,664.5 1062.3,666 1062.5,667.5 1062.7,669 1062.9,670.5 1063.2,672.2 1063.4,674 1063.6,676 1063.8,677.9 1064.1,679.7 1064.3,681.3 1064.6,682.4 1064.8,683.1 1065.1,683.1 1065.4,682.6 1065.8,681.5 1066.1,680 1066.5,678.3 1066.8,676.4 1067.2,674.4 1067.5,672.6 1067.8,670.9 1068.1,669.4 1068.3,667.9 1068.6,666.4 1068.8,664.9 1069,663.4 1069.2,661.9 1069.5,660.4 1069.7,658.9 1070.1,657.5 1070.5,656 1071.1,654.2 1071.8,652.6 1072.5,651.2 1073.4,650.4 1074.3,650.2 1075.5,650.1 1076.9,650 1078.4,650 1080.1,649.9 1081.8,649.9 1083.5,649.8 1085.1,649.7 1086.6,649.6 1088.1,649.3 1089.5,648.9 1090.9,648.4 1092.3,647.8 1093.7,647.3 1095.2,646.7 1096.6,646.2 1098,645.7 1099.5,645.1 1100.9,644.6 1102.3,644.2 1103.8,644.1 1105.3,644.1 1106.7,644.1 1108.2,644.1 1109.7,644.1 1111.1,644.1 1112.6,644.1 1114.1,644.1 1115.5,644.1 1117,644.1 1118.5,644.1 1120,644.1 1121.5,644.1 1123,644.1 1124.5,644.1 1125.9,644.1 1127.4,644.1 1128.9,644.1 1130.4,644.1 1131.9,644.1 1133.4,644.1 1134.9,644.1 1136.4,644.1 1137.9,644.1 1139.4,644.1 1140.9,644.1 1142.4,644.1 1144,644.1 1145.5,644.1 1147,644.1 1148.5,644.1 1150,644.1 1151.5,644.1 1153,644.1 1154.5,644.1 1156,644.1 1157.6,644.1 1159.1,644.1 1160.6,644.1 1162.1,644.1 1163.6,644.1 1165.1,644.1 1166.6,644.1 1168.2,644.1 1169.7,644.1 1171.2,644.1 1172.7,644.1 1174.2,644.1 1175.7,644.1 1177.2,644.1 1178.8,644.1 1180.3,644.1 1181.8,644.1 1183.3,644.1 1184.8,644.1 1186.3,644.1 1187.8,644.1 1189.3,644.1 1190.9,644.1 1192.4,644.1 1193.9,644.1 1195.4,644.1 1196.9,644.1 1198.4,644.1 1199.9,644.1 1201.4,644.1 1202.9,644.1 1204.4,644.1 1205.9,644.1 1207.4,644.1 1208.9,644.1 1210.4,644.1 1211.9,644.1 1213.4,644.1 1214.9,644.1 1216.4,644.1 1217.9,644.1 1219.4,644.1 1220.9,644.1 1222.4,644.1 1223.9,644.1 1225.4,644.1 1226.9,644.1 1228.4,644.1 1229.9,644.1 1231.4,644.1 1232.9,644.1 1234.4,644.1 1235.9,644.1 1237.4,644.1 1238.9,644.1 1240.4,644.1 1241.9,644.1 1243.4,644.1 1244.9,644.1 1246.4,644.1 1247.9,644.1 1249.4,644.1 1250.9,644.1 1252.4,644.1 1253.9,644.1 1255.4,644.1 1256.9,644.1 1258.4,644.1 1259.9,644.1 1261.4,644.1 1262.9,644.1 1264.4,644.1 1265.9,644.1 1267.4,644.1 1269,644.1 1270.5,644.1 1272,644.1 1273.5,644.1 1275,644.1 1276.5,644.1 1278,644.1 1279.5,644.1 1281,644.1 1282.5,644.1 1284,644.1 1285.5,644.1 1287,644.1 1288.5,644.1 1290,644.1 1291.5,644.1 1293,644.1 1294.5,644.1 1296,644.1 1297.5,644.1 1299,644.1 1300.5,644.1 1302,644.1 1303.5,644.1 1305,644.1 1306.5,644.1 1308,644.1 1309.5,644.1 1311,644.1 1312.5,644.1 1314,644.1 1315.5,644.1 1317,644.1 1318.5,644.1 1320,644.1 1321.5,644.1 1323,644.1 1324.5,644.1 1326,644.1 1327.5,644.1 1329,644.1 1330.5,644.1 1332,644.1 1333.5,644.1 1335,644.1 1336.5,644.1 1338,644.1 1339.5,644.1 1341,644.1 1342.5,644.1 1344,644.1 1345.5,644.1 1347,644.1 1348.5,644.1 1350,644.1 1351.5,644.1 1353,644.1 1354.5,644.1 1356,644.1 1357.5,644.1 1359,644.1 1360.5,644.1 1362,644.1 1363.5,644.1 1365,644.1 1366.5,644.1 1368,644.1 1369.5,644.1 1371.1,644.1 1372.6,644.1 1374.1,644.1 1375.6,644.1 1377.1,644.1 1378.6,644.1 1380.1,644.1 1381.6,644.1 1383.1,644.1 1384.6,644.1 1386.1,644.1 1387.6,644.1 1389.1,644.1 1390.6,644.1 1392.1,644.1 1393.6,644.1 1395.1,644.1 1396.6,644.1 1398.1,644.1 1399.6,644.1 1401.1,644.1 1402.6,644.1 1404.1,644.1 1405.6,644.1 1407.1,644.1 1408.6,644.1 1410.1,644.1 1411.6,644.1 1413.1,644.1 1414.6,644.1 1416.1,644.1 1417.6,644.1 1419.1,644.1 1420.6,644.1" fill="none" stroke="#000" stroke-width="3.6" stroke-linejoin="round" stroke-linecap="butt" />
<polyline points="289.4,423.4 354.2,343.6 538.6,343.6" fill="none" stroke="#000" stroke-width="3.5" stroke-linejoin="round" stroke-linecap="butt" />
<text x="0" y="0" font-size="53.5" text-anchor="start" font-weight="normal" transform="translate(398.4 334.4) scale(1.0 1.03)" >5.91</text>
<g>
<text x="0" y="0" font-size="50" text-anchor="start" font-weight="normal" transform="translate(1208 112.3) scale(1.632 1.0001)" >-</text>
<text x="1394.9" y="109.2" font-size="54" text-anchor="end" font-weight="normal" >oleate</text>
</g>
<text x="1403.9" y="618" font-size="54" text-anchor="end" font-weight="normal" >+ oleate</text>
<path d="M64.5 1829.9 V1029.1" fill="none" stroke="#000" stroke-width="3.6"/>
<path d="M51.3 1029.1 H1463.5 V1829.9" fill="none" stroke="#000" stroke-width="3.6" stroke-linejoin="round"/>
<line x1="51.3" y1="1816" x2="1463.5" y2="1816" stroke="#000" stroke-width="3.6"/>
<line x1="51.3" y1="1717.8" x2="78.8" y2="1717.8" stroke="#000" stroke-width="3.6"/>
<line x1="51.3" y1="1619.6" x2="78.8" y2="1619.6" stroke="#000" stroke-width="3.6"/>
<line x1="51.3" y1="1521.4" x2="78.8" y2="1521.4" stroke="#000" stroke-width="3.6"/>
<line x1="51.3" y1="1423.2" x2="78.8" y2="1423.2" stroke="#000" stroke-width="3.6"/>
<line x1="51.3" y1="1325" x2="78.8" y2="1325" stroke="#000" stroke-width="3.6"/>
<line x1="51.3" y1="1226.8" x2="78.8" y2="1226.8" stroke="#000" stroke-width="3.6"/>
<line x1="51.3" y1="1128.6" x2="78.8" y2="1128.6" stroke="#000" stroke-width="3.6"/>
<line x1="120.5" y1="1816" x2="120.5" y2="1827.2" stroke="#000" stroke-width="3.6"/>
<line x1="176.4" y1="1816" x2="176.4" y2="1827.2" stroke="#000" stroke-width="3.6"/>
<line x1="232.4" y1="1816" x2="232.4" y2="1827.2" stroke="#000" stroke-width="3.6"/>
<line x1="288.3" y1="1816" x2="288.3" y2="1827.2" stroke="#000" stroke-width="3.6"/>
<line x1="344.3" y1="1802.5" x2="344.3" y2="1829.9" stroke="#000" stroke-width="3.6"/>
<line x1="400.3" y1="1816" x2="400.3" y2="1827.2" stroke="#000" stroke-width="3.6"/>
<line x1="456.2" y1="1816" x2="456.2" y2="1827.2" stroke="#000" stroke-width="3.6"/>
<line x1="512.2" y1="1816" x2="512.2" y2="1827.2" stroke="#000" stroke-width="3.6"/>
<line x1="568.1" y1="1816" x2="568.1" y2="1827.2" stroke="#000" stroke-width="3.6"/>
<line x1="624.1" y1="1802.5" x2="624.1" y2="1829.9" stroke="#000" stroke-width="3.6"/>
<line x1="680.1" y1="1816" x2="680.1" y2="1827.2" stroke="#000" stroke-width="3.6"/>
<line x1="736" y1="1816" x2="736" y2="1827.2" stroke="#000" stroke-width="3.6"/>
<line x1="792" y1="1816" x2="792" y2="1827.2" stroke="#000" stroke-width="3.6"/>
<line x1="847.9" y1="1816" x2="847.9" y2="1827.2" stroke="#000" stroke-width="3.6"/>
<line x1="903.9" y1="1802.5" x2="903.9" y2="1829.9" stroke="#000" stroke-width="3.6"/>
<line x1="959.9" y1="1816" x2="959.9" y2="1827.2" stroke="#000" stroke-width="3.6"/>
<line x1="1015.8" y1="1816" x2="1015.8" y2="1827.2" stroke="#000" stroke-width="3.6"/>
<line x1="1071.8" y1="1816" x2="1071.8" y2="1827.2" stroke="#000" stroke-width="3.6"/>
<line x1="1127.7" y1="1816" x2="1127.7" y2="1827.2" stroke="#000" stroke-width="3.6"/>
<line x1="1183.7" y1="1802.5" x2="1183.7" y2="1829.9" stroke="#000" stroke-width="3.6"/>
<line x1="1239.7" y1="1816" x2="1239.7" y2="1827.2" stroke="#000" stroke-width="3.6"/>
<line x1="1295.6" y1="1816" x2="1295.6" y2="1827.2" stroke="#000" stroke-width="3.6"/>
<line x1="1351.6" y1="1816" x2="1351.6" y2="1827.2" stroke="#000" stroke-width="3.6"/>
<line x1="1407.5" y1="1816" x2="1407.5" y2="1827.2" stroke="#000" stroke-width="3.6"/>
<text x="0" y="0" font-size="46.7" text-anchor="middle" font-weight="normal" transform="translate(64.5 1885.8) scale(1.0 1.045)" >1750</text>
<text x="0" y="0" font-size="46.7" text-anchor="middle" font-weight="normal" transform="translate(344.3 1885.8) scale(1.0 1.045)" >2250</text>
<text x="0" y="0" font-size="46.7" text-anchor="middle" font-weight="normal" transform="translate(624.1 1885.8) scale(1.0 1.045)" >2750</text>
<text x="0" y="0" font-size="46.7" text-anchor="middle" font-weight="normal" transform="translate(903.9 1885.8) scale(1.0 1.045)" >3250</text>
<text x="0" y="0" font-size="46.7" text-anchor="middle" font-weight="normal" transform="translate(1183.7 1885.8) scale(1.0 1.045)" >3750</text>
<text x="0" y="0" font-size="46.7" text-anchor="middle" font-weight="normal" transform="translate(1463.5 1885.8) scale(1.0 1.045)" >4250</text>
<text x="764.6" y="1948" font-size="46.1" text-anchor="middle" font-weight="normal" >Magnetic Field, G</text>
<text x="0" y="0" font-size="93" text-anchor="start" font-weight="bold" transform="translate(82.6 1113.6) scale(0.985 1.035)" >B</text>
<polyline points="64.9,1158.2 65.9,1157.8 66.9,1157.4 67.9,1157.7 68.9,1158.1 69.9,1156.3 70.9,1153.6 71.9,1153.1 72.9,1153.4 73.8,1153.8 74.8,1153.9 75.8,1154 76.8,1155.4 77.8,1155.5 78.8,1157.8 79.8,1156.5 80.8,1154.5 81.8,1155.7 82.8,1154.3 83.8,1151.2 84.8,1153 85.8,1152.5 86.8,1154.6 87.7,1153.4 88.7,1155.4 89.7,1154.3 90.7,1153.1 91.7,1152.2 92.7,1152.8 93.7,1151.1 94.7,1151.5 95.7,1152 96.6,1153.7 97.6,1154.8 98.6,1156.6 99.6,1156.6 100.6,1156.4 101.6,1155.9 102.6,1156.2 103.6,1157.5 104.6,1157.8 105.6,1157.6 106.6,1157.6 107.6,1159.2 108.6,1157.9 109.6,1159.1 110.6,1159.8 111.6,1159 112.6,1160.2 113.6,1159.2 114.6,1161.3 115.6,1161.2 116.6,1159.2 117.6,1160.1 118.6,1158.1 119.6,1159.6 120.6,1158.4 121.6,1159.1 122.6,1159.6 123.6,1159.1 124.6,1159.4 125.6,1158.7 126.6,1159.4 127.6,1158.8 128.6,1158.7 129.6,1156.4 130.6,1159.4 131.6,1158.6 132.6,1157.2 133.6,1159.1 134.6,1159.7 135.6,1160.6 136.6,1159 137.5,1160.8 138.5,1159.3 139.5,1161 140.5,1159.4 141.4,1160.2 142.4,1159.6 143.4,1158.4 144.3,1159 145.3,1158 146.3,1157.6 147.2,1156.5 148.2,1154.9 149.2,1153.5 150.1,1153.7 151.1,1153.1 152.1,1152.5 153.1,1153.7 154,1154.3 155,1154.7 156,1155.6 156.9,1155.5 157.9,1155.8 158.9,1156.2 159.9,1155.8 160.8,1154 161.8,1152.7 162.8,1154.4 163.7,1153.3 164.7,1153.9 165.7,1151.8 166.7,1152 167.6,1151.5 168.6,1149.6 169.6,1149.7 170.6,1150.2 171.6,1150 172.6,1150.1 173.5,1148.2 174.5,1147.8 175.5,1149.1 176.5,1148.3 177.5,1146.5 178.4,1144.2 179.4,1145.4 180.4,1146.4 181.3,1147.3 182.2,1147.6 183.1,1147 184.1,1146.2 184.9,1144.1 185.8,1142.4 186.7,1143.3 187.6,1142.8 188.4,1142 189.3,1142.2 190.1,1141.1 191,1141 191.8,1141.3 192.6,1142.3 193.4,1143.3 194.3,1142.1 195.1,1142.6 195.9,1141.4 196.7,1140.2 197.5,1139.4 198.3,1139.4 199.1,1137.7 199.8,1137.1 200.6,1135.9 201.4,1136.1 202.2,1135.9 202.9,1134.8 203.7,1134 204.4,1133 205.1,1132.6 205.9,1131.2 206.6,1131.9 207.4,1130.5 208.1,1129.3 208.9,1128.7 209.6,1127.8 210.4,1128.1 211.1,1127.6 211.9,1125.8 212.7,1126 213.4,1124.5 214.2,1122.3 215,1120.5 215.7,1120.5 216.5,1120.2 217.3,1120.3 218.1,1120.1 218.9,1119.6 219.7,1121.3 220.5,1120.2 221.2,1120.6 222.1,1118.4 222.9,1117.6 223.7,1117 224.5,1116.7 225.3,1117.3 226.2,1116.1 227,1114.7 227.8,1113.2 228.7,1111 229.5,1111.3 230.4,1111 231.2,1110.5 232.1,1110.8 233,1109.3 233.8,1108.6 234.7,1108.1 235.5,1107.6 236.4,1109.5 237.3,1110.1 238.1,1108 239,1105.9 239.8,1103.5 240.7,1104.6 241.5,1105.2 242.4,1104.5 243.3,1104.8 244.1,1105.4 245,1105.3 245.9,1104.6 246.8,1104.5 247.7,1103 248.6,1100 249.5,1099.9 250.5,1098.9 251.5,1099.6 252.4,1099.8 253.4,1098.9 254.4,1098.5 255.4,1101.3 256.4,1100.5 257.4,1101 258.3,1098.6 259.3,1100.2 260.3,1100.8 261.3,1100.6 262.2,1098.9 263.2,1099.2 264.2,1098.8 265.2,1099.7 266.2,1100.1 267.1,1100 268.1,1099.7 269,1101.8 270,1101.9 270.9,1103.6 271.7,1104.3 272.6,1105.5 273.4,1105.3 274.2,1104.5 274.9,1105.2 275.7,1106.3 276.4,1105.4 277.1,1106.3 277.9,1107.4 278.6,1108.2 279.2,1108.7 279.9,1108.7 280.6,1109.5 281.3,1110.9 281.9,1111.7 282.6,1113.6 283.2,1113.1 283.9,1114.9 284.6,1115.1 285.2,1114.2 285.8,1114.7 286.5,1115.5 287.1,1116.6 287.7,1118.1 288.4,1119.7 289,1119.9 289.6,1121 290.2,1121.3 290.8,1122.1 291.4,1123.5 292,1124.1 292.6,1125.5 293.2,1127.1 293.8,1127.7 294.3,1128.8 294.9,1129.8 295.5,1129.8 296.1,1130.7 296.7,1130.3 297.2,1131.6 297.8,1132 298.4,1132.6 298.9,1134.2 299.5,1134.2 300.1,1135.9 300.6,1136.5 301.2,1137.8 301.7,1138.1 302.3,1139.8 302.8,1140.3 303.4,1140.2 303.9,1140.6 304.5,1142.4 305,1142.9 305.6,1144 306.1,1145.1 306.7,1146.4 307.2,1147.4 307.7,1148.3 308.2,1149.5 308.7,1149.5 309.3,1150.3 309.8,1151.3 310.4,1151.3 311,1153.2 311.7,1154.6 312.5,1153.6 313.3,1154.4 314.1,1155.1 315,1154.5 315.9,1155.5 316.9,1153.3 317.9,1154.6 318.8,1156.3 319.8,1155.3 320.7,1157.3 321.7,1157.5 322.6,1160.5 323.5,1160.9 324.4,1162 325.3,1162.2 326.2,1162.5 327.1,1161.9 328,1162.4 328.9,1162.2 329.8,1162.8 330.7,1162.4 331.7,1163.9 332.6,1163 333.6,1164.3 334.5,1165.5 335.5,1163.5 336.5,1161.9 337.4,1163.4 338.4,1163 339.4,1163.1 340.4,1163.9 341.4,1164.4 342.4,1163.6 343.4,1162.7 344.4,1162.3 345.5,1162.4 346.5,1164.5 347.5,1163.9 348.5,1163.2 349.5,1162.5 350.5,1163.3 351.6,1166.2 352.6,1163.5 353.6,1164.3 354.6,1163.9 355.6,1162.9 356.6,1162.1 357.6,1161.3 358.6,1162.6 359.6,1165.7 360.6,1164.9 361.6,1165.8 362.6,1163.7 363.6,1164.6 364.6,1164.7 365.6,1165 366.6,1163.1 367.6,1164.1 368.6,1163.5 369.6,1162.2 370.6,1162.6 371.6,1161.6 372.6,1161.9 373.6,1162.7 374.6,1161.2 375.6,1164.3 376.6,1164.9 377.6,1165.7 378.6,1164.9 379.6,1164.3 380.6,1161.9 381.6,1163.4 382.6,1163.2 383.6,1164.7 384.6,1168 385.6,1166.8 386.6,1166.8 387.6,1165.1 388.6,1166.3 389.6,1166 390.6,1166.4 391.6,1166.1 392.6,1167.4 393.6,1166.4 394.6,1166.6 395.6,1166.4 396.6,1168.6 397.6,1167.4 398.6,1166.7 399.6,1165.8 400.6,1165.2 401.6,1164 402.6,1166 403.6,1167 404.6,1168.3 405.6,1168.1 406.6,1168.6 407.6,1168.1 408.6,1168.1 409.6,1167.6 410.5,1166.9 411.5,1164.5 412.5,1165.3 413.4,1164.7 414.4,1165.5 415.4,1164.7 416.3,1167 417.3,1168.8 418.2,1170.1 419.2,1171.2 420.1,1170.4 421.1,1171.5 422,1170.5 422.9,1171.1 423.9,1173.9 424.8,1173.7 425.7,1173.5 426.7,1172.9 427.6,1172.7 428.5,1171.7 429.4,1173.1 430.3,1171.9 431.1,1172 432,1170.2 432.9,1167.7 433.8,1167.1 434.7,1168.8 435.6,1168.3 436.5,1168.6 437.4,1168.3 438.4,1166.6 439.3,1165.6 440.2,1166.2 441.1,1167.9 442.1,1170.5 443,1171.2 443.9,1172.4 444.9,1172.4 445.8,1172.3 446.8,1172.2 447.7,1172.1 448.7,1172.6 449.6,1172.9 450.6,1173.5 451.6,1175 452.5,1175.4 453.5,1176.6 454.5,1175 455.4,1173.4 456.4,1171.7 457.4,1172.9 458.4,1172.4 459.4,1171.7 460.4,1171.1 461.4,1169.7 462.4,1171.2 463.4,1170.3 464.4,1172 465.4,1169.8 466.4,1169.5 467.4,1171 468.4,1170.4 469.4,1170.8 470.4,1170.6 471.4,1170.6 472.4,1172.4 473.4,1172.3 474.4,1173.1 475.4,1171.9 476.5,1172.5 477.5,1170.8 478.5,1171.1 479.5,1168.3 480.5,1169.6 481.5,1170.4 482.5,1171.1 483.5,1169.7 484.5,1171.2 485.5,1169.7 486.5,1169.5 487.5,1169.1 488.5,1171 489.5,1171.4 490.5,1169.6 491.5,1169.3 492.5,1169.4 493.5,1171.3 494.5,1170.9 495.5,1170.4 496.5,1170.1 497.5,1170.9 498.5,1171.8 499.5,1171.9 500.5,1169.8 501.5,1169 502.5,1168.5 503.4,1166.8 504.4,1168.4 505.3,1166.7 506.3,1167.8 507.2,1165.7 508.2,1166.2 509.1,1167.4 510.1,1166.8 511,1168.5 512,1168.6 513,1168.5 513.9,1169.8 514.9,1169.5 515.9,1167.1 516.8,1169.7 517.8,1168.9 518.8,1169.4 519.8,1167.7 520.8,1168.4 521.8,1168.3 522.8,1169.1 523.8,1167 524.9,1167.6 525.9,1166.8 526.9,1168.2 527.9,1168.8 528.9,1167.5 529.9,1168.5 530.9,1169.6 531.9,1170.6 532.9,1170.3 533.9,1169.5 534.9,1167.3 535.9,1166 536.9,1164.7 537.8,1165.6 538.8,1166 539.8,1167.9 540.8,1167.7 541.8,1167.6 542.8,1170.5 543.8,1171 544.8,1170.4 545.7,1169.8 546.7,1168.9 547.7,1169.6 548.6,1171 549.6,1169.7 550.6,1169.1 551.5,1169.5 552.5,1168.9 553.4,1168.4 554.4,1168.3 555.3,1168.9 556.3,1167.4 557.2,1167.9 558.2,1164.6 559.1,1163.9 560.1,1161.6 561,1161.8 562,1162.6 562.9,1162.2 563.9,1162.7 564.9,1161.7 565.8,1160.5 566.8,1159.4 567.8,1159.6 568.8,1160.2 569.8,1160.8 570.8,1161.7 571.8,1164.7 572.8,1163.7 573.8,1163.7 574.8,1161.2 575.8,1160 576.9,1158.9 577.9,1161.3 578.9,1162.5 579.9,1166.5 580.9,1165.4 581.9,1166.1 582.8,1163 583.8,1164.1 584.7,1163.3 585.7,1162.1 586.6,1161.1 587.5,1161.5 588.4,1162.2 589.3,1161.6 590.1,1162.5 591,1161 591.9,1162.2 592.8,1161.6 593.6,1160.9 594.5,1160.3 595.4,1160.2 596.4,1161.3 597.3,1160.4 598.2,1158.2 599.2,1158.4 600.2,1156.1 601.1,1155.6 602.1,1156.5 603.1,1156.7 604,1157.7 605,1159 606,1161.3 607,1158 608,1157.9 609,1157.5 610,1158.2 611,1159.8 612,1161.3 613,1158.7 614,1158.6 615,1157.1 616,1156.5 617,1154.1 618,1153 619,1151.6 619.9,1153.9 620.9,1154 621.9,1154.3 622.9,1152.7 623.9,1153.9 624.9,1153.4 625.9,1152.6 626.9,1153.1 627.9,1154.5 628.9,1154.5 629.9,1154.1 630.9,1154.5 631.9,1153.7 632.9,1154.1 633.9,1153.7 634.9,1153.7 635.9,1152.9 636.9,1152.3 637.9,1151.8 638.9,1151 639.9,1153 640.8,1152.1 641.8,1152.3 642.8,1153.8 643.8,1152.3 644.7,1149.3 645.7,1149.9 646.7,1149.6 647.6,1150.4 648.6,1149.9 649.6,1149.5 650.5,1147.9 651.5,1147.9 652.5,1148.7 653.5,1148.9 654.4,1147.8 655.4,1148.4 656.4,1148.5 657.4,1149 658.4,1149.3 659.4,1149 660.4,1148.6 661.5,1150.7 662.5,1151.3 663.5,1150 664.5,1150.6 665.5,1149.9 666.5,1149.6 667.5,1148.9 668.5,1147.3 669.5,1147.6 670.5,1147.8 671.5,1146.4 672.5,1148.5 673.5,1148.9 674.5,1149.5 675.5,1150.3 676.4,1150.1 677.4,1148.4 678.3,1147.2 679.3,1146 680.2,1146.7 681.2,1147.3 682.1,1148.4 683,1146.8 684,1148 684.9,1146.4 685.8,1143.1 686.8,1143.6 687.7,1144 688.7,1144.4 689.6,1144.4 690.6,1144.6 691.6,1144.3 692.6,1145.2 693.5,1144.4 694.5,1144 695.5,1142.6 696.5,1143.1 697.5,1143.3 698.5,1143.9 699.5,1142.7 700.5,1143.3 701.5,1143.1 702.5,1142.4 703.5,1141.2 704.5,1140.5 705.5,1140.1 706.5,1140.6 707.5,1141.5 708.5,1140.6 709.5,1140.6 710.5,1141.2 711.5,1141 712.5,1140.1 713.5,1140.3 714.5,1140.9 715.5,1141.6 716.5,1140.4 717.5,1140.7 718.5,1142 719.5,1140.8 720.5,1141.4 721.5,1140.9 722.5,1139.9 723.5,1138.8 724.5,1139.3 725.5,1138.9 726.5,1139.2 727.5,1139.1 728.5,1141.2 729.5,1139.9 730.5,1140.7 731.5,1139.9 732.5,1139.7 733.5,1137.9 734.5,1139.4 735.5,1139.1 736.6,1140.7 737.7,1142 738.8,1141 739.9,1142.2 741,1141.2 742.1,1141.8 743.2,1141.1 744.2,1139.4 745.1,1138.4 745.9,1139.4 746.7,1139.7 747.4,1139.3 747.9,1138.4 748.4,1136.6 748.8,1136 749.2,1135.2 749.6,1133.5 750,1132.5 750.4,1131.6 750.8,1130.3 751.4,1129.7 752,1128.5 752.8,1127.4 753.7,1127.7 754.7,1127.2 755.7,1126.3 756.8,1125.8 757.8,1124.3 758.8,1124.8 759.8,1126.2 760.8,1127 761.8,1129.4 762.8,1128.2 763.8,1127.8 764.8,1127.4 765.8,1127.9 766.8,1130.4 767.8,1130.5 768.8,1130 769.8,1129.9 770.8,1129.8 771.8,1129 772.8,1129.9 773.8,1127.9 774.7,1128.7 775.7,1127.7 776.7,1125.8 777.7,1125.8 778.6,1124.8 779.6,1124.9 780.6,1123.9 781.5,1124 782.5,1122.9 783.5,1123.9 784.5,1125.8 785.4,1126 786.4,1124.2 787.4,1122.8 788.4,1123.1 789.4,1121 790.4,1122.1 791.4,1123.4 792.4,1123.7 793.4,1122.8 794.4,1122.6 795.4,1125.3 796.4,1124.3 797.4,1123.4 798.3,1124 799.3,1124.8 800.2,1122.7 801.2,1125.5 802.1,1125.1 803,1122.7 803.9,1124.1 804.8,1121.9 805.7,1122.5 806.6,1120.8 807.5,1120.8 808.5,1117.9 809.4,1117.7 810.4,1117.8 811.4,1116.3 812.4,1117 813.4,1118 814.4,1119.1 815.4,1117.5 816.4,1117.5 817.4,1116.3 818.4,1115.5 819.4,1117.1 820.3,1116.1 821.2,1117.9 822,1116.9 822.8,1118.3 823.6,1117.6 824.4,1119.7 825.2,1120.7 826,1121.7 826.8,1122.5 827.7,1122.8 828.5,1122.4 829.4,1120.9 830.3,1121.5 831.2,1120.8 832.2,1120.1 833.1,1118.6 834,1117.7 835,1116.7 835.9,1114.6 836.9,1114.9 837.8,1117.1 838.8,1117.6 839.7,1118.6 840.7,1119.9 841.7,1120 842.6,1121.1 843.6,1122.3 844.6,1121.5 845.6,1122.1 846.5,1122.9 847.5,1123.4 848.4,1123.2 849.4,1124.5 850.3,1124 851.3,1124.9 852.2,1125.3 853.1,1124.2 854,1123.3 854.8,1121 855.7,1120.7 856.5,1121.2 857.4,1121.9 858.2,1122.3 859.1,1119.9 859.9,1120.1 860.8,1118.8 861.7,1118.3 862.6,1118.2 863.6,1118.6 864.5,1118 865.5,1118.6 866.5,1116.9 867.5,1118.2 868.5,1118.4 869.5,1117.9 870.5,1118.4 871.5,1118 872.5,1117.9 873.5,1118.8 874.6,1119.3 875.6,1124 876.6,1123.5 877.6,1127.1 878.6,1124.7 879.6,1122.6 880.6,1120.8 881.7,1118.7 882.7,1120.6 883.7,1120.8 884.8,1120.1 885.8,1120.1 886.8,1118.6 887.8,1117 888.8,1118.1 889.8,1118.1 890.8,1120.2 891.7,1121.7 892.6,1121.3 893.5,1123.6 894.3,1122.9 895.1,1123.2 896,1124.3 896.7,1123.9 897.5,1125 898.3,1125.1 899.1,1127 899.9,1126.8 900.7,1127.9 901.5,1126 902.4,1126.4 903.3,1124.7 904.1,1123.5 904.9,1122.2 905.6,1121.6 906.1,1121.4 906.6,1121.9 907.1,1124 907.5,1124.9 907.8,1126.1 908.2,1127.4 908.6,1128.3 908.9,1129.5 909.3,1130.6 909.7,1131.5 910.1,1132.9 910.6,1133.7 911.1,1134.2 911.7,1134.7 912.6,1136.4 913.5,1136.4 914.5,1137.7 915.3,1138.1 915.8,1137.7 916.2,1138.7 916.4,1139.7 916.7,1140.6 916.9,1141.6 917,1142.7 917.2,1143.8 917.4,1144.8 917.6,1145.8 917.8,1147 918.1,1148.1 918.4,1149.9 918.8,1149.8 919.6,1150.9 920.6,1150.3 921.6,1149.2 922.4,1151.4 923,1151.7 923.4,1152.4 923.8,1153.3 924.1,1154.4 924.4,1155.6 924.7,1156.3 924.9,1157 925.2,1158.2 925.4,1159.1 925.6,1160.3 925.8,1161.4 926,1162.5 926.2,1163.6 926.4,1164.8 926.7,1165.7 926.9,1167 927.2,1167.8 927.4,1168.7 927.7,1169.8 928,1170.7 928.3,1171.5 928.6,1172.5 928.9,1173.2 929.2,1174.3 929.5,1175.5 929.8,1176.4 930.1,1177 930.4,1178 930.6,1178.9 930.9,1179.8 931.2,1180.8 931.5,1182.1 931.7,1183.2 932,1184.1 932.2,1185 932.5,1185.7 932.7,1186.6 932.9,1187.6 933.1,1188.7 933.4,1189.6 933.6,1190.7 933.8,1191.5 934,1192.8 934.2,1193.7 934.4,1194.7 934.6,1195.7 934.8,1196.6 935.1,1197.7 935.3,1198.7 935.5,1199.7 935.7,1200.4 936,1201.3 936.2,1202 936.5,1203.4 936.7,1204.3 937,1205.4 937.3,1206.4 937.6,1207.5 937.9,1208.2 938.2,1209.4 938.5,1210.2 938.9,1210.9 939.3,1211.9 939.7,1212.6 940.1,1213.9 940.6,1215 941,1215.8 941.5,1216.7 942,1217.2 942.5,1218.2 943,1217.7 943.4,1219.3 943.9,1220.1 944.4,1221.2 944.9,1222.4 945.3,1223.5 945.8,1224.5 946.2,1225.5 946.6,1226.8 947,1228 947.4,1228.8 947.8,1230 948.3,1230.5 948.7,1230.9 949.2,1232.1 949.8,1232.6 950.4,1232.9 951.2,1232 952.2,1232.2 953.3,1231.4 954.5,1232.2 955.7,1232.6 956.9,1233.6 958,1233.4 959.1,1231.4 960,1231.2 960.7,1230.4 961.2,1230.9 961.6,1231.3 962,1230.2 962.4,1228.8 962.7,1228 963,1226.9 963.3,1226 963.6,1225 963.8,1223.9 964.1,1222.9 964.3,1221.6 964.5,1220.4 964.8,1219.4 965,1218.2 965.3,1217.1 965.6,1216.1 965.9,1215.2 966.2,1214 966.4,1213.1 966.7,1211.9 967,1210.7 967.3,1209.4 967.6,1208 967.9,1206.7 968.2,1205.6 968.5,1204 968.8,1202.8 969.1,1201.6 969.4,1200.5 969.7,1199.4 969.9,1198.5 970.2,1197.6 970.5,1196.6 970.7,1195.8 971,1195.2 971.2,1194.6 971.4,1194.5 971.6,1194.8 971.8,1196 972,1195.8 972.2,1195 972.4,1194.9 972.6,1195.6 972.7,1196.5 972.9,1197.6 973,1198.9 973.2,1200.2 973.3,1201.6 973.5,1202.8 973.6,1204.1 973.7,1205.2 973.7,1206.2 973.8,1207.2 973.9,1208.2 974,1209.2 974,1210.1 974.1,1211.2 974.2,1212.1 974.2,1213.1 974.3,1214.1 974.3,1215.1 974.4,1216.1 974.4,1217.1 974.5,1218.1 974.5,1219.1 974.5,1220.1 974.6,1221.1 974.6,1222.1 974.7,1223.1 974.7,1224.1 974.7,1225.1 974.8,1226.1 974.8,1227.1 974.8,1228.2 974.9,1229.2 974.9,1230.2 975,1231.2 975,1232.2 975,1233.2 975.1,1234.1 975.1,1235.1 975.2,1236.1 975.2,1237.2 975.3,1238.1 975.3,1239.2 975.4,1240.2 975.5,1241.2 975.5,1242.2 975.6,1243.2 975.6,1244.3 975.7,1245.4 975.8,1246.6 975.9,1247.7 975.9,1249 976,1250.2 976.1,1251.5 976.2,1252.8 976.2,1254.1 976.3,1255.4 976.4,1256.7 976.5,1258 976.6,1259.4 976.7,1260.7 976.8,1262 976.8,1263.3 976.9,1264.6 977,1265.9 977.1,1267.2 977.2,1268.4 977.3,1269.6 977.4,1270.8 977.5,1272 977.6,1273.1 977.7,1274.1 977.8,1275.1 977.9,1276.1 978,1277.1 978.1,1277.9 978.2,1278.8 978.3,1279.6 978.4,1280.2 978.5,1280.9 978.6,1281.4 978.7,1282 978.8,1282.3 978.9,1282.3 979,1282.1 979.1,1283.6 979.2,1284.3 979.3,1283.5 979.4,1282.7 979.5,1282.1 979.7,1281.5 979.8,1280.8 979.9,1280 980,1279.1 980.1,1278.1 980.3,1277.1 980.4,1275.9 980.5,1274.8 980.6,1273.5 980.8,1272.2 980.9,1270.9 981,1269.6 981.1,1268.2 981.3,1266.9 981.4,1265.6 981.5,1264.4 981.6,1263.2 981.7,1262 981.8,1260.9 981.9,1259.9 982,1258.9 982.1,1258 982.2,1256.9 982.3,1255.9 982.4,1254.9 982.4,1253.9 982.5,1252.9 982.6,1251.9 982.7,1250.9 982.8,1249.9 982.8,1248.9 982.9,1247.9 983,1246.9 983,1245.9 983.1,1244.9 983.2,1243.9 983.3,1242.9 983.3,1241.9 983.4,1240.9 983.5,1239.9 983.6,1238.9 983.7,1238 983.7,1236.9 983.8,1235.9 983.9,1234.9 984,1233.9 984.1,1232.9 984.3,1232 984.4,1231 984.5,1230 984.6,1228.9 984.8,1227.9 984.9,1226.9 985,1225.8 985.2,1224.6 985.3,1223.5 985.5,1222.4 985.6,1221.3 985.8,1220.2 986,1219.1 986.2,1218.2 986.4,1217.4 986.7,1216.4 986.9,1215.3 987.2,1214.1 987.5,1213.3 987.9,1212.6 988.2,1211.5 988.6,1211.2 989,1211 989.6,1209.6 990.6,1208.6 991.6,1209.3 992.5,1207.1 993.4,1206.5 994.2,1205.6 995,1209.6 995.8,1210.2 996.5,1212.8 997.2,1214.9 997.9,1216.4 998.5,1216.8 999,1217.4 999.4,1217.7 999.9,1217.8 1000.2,1218.9 1000.6,1220 1001,1220.9 1001.3,1222 1001.7,1223.1 1002.2,1223.9 1002.6,1224.8 1003.2,1226.1 1003.8,1225.3 1004.6,1226 1005.6,1225.7 1006.6,1227.1 1007.7,1226.4 1008.8,1227.2 1009.8,1226.9 1010.8,1226.3 1011.8,1226.7 1012.8,1224.8 1013.6,1224.8 1014.3,1223.6 1014.9,1223.1 1015.3,1222.3 1015.7,1222.2 1016,1221.4 1016.3,1220.4 1016.6,1219.4 1016.8,1218.2 1017.1,1217.2 1017.3,1216.2 1017.6,1215 1017.9,1213.8 1018.3,1212.8 1018.7,1212.1 1019,1211.1 1019.4,1210.3 1019.9,1209.6 1020.3,1209.1 1020.7,1208.1 1021.1,1207.1 1021.6,1205.5 1022.1,1204.4 1022.5,1203.3 1023,1202.9 1023.5,1201.8 1024,1202.1 1024.5,1201.4 1025,1200.1 1025.5,1198.3 1026,1197.6 1026.5,1197 1027.1,1196 1027.7,1194.7 1028.3,1193.9 1028.9,1193.6 1029.5,1192.1 1030,1191.8 1030.4,1190.4 1030.8,1189.4 1031.2,1188.2 1031.6,1187.7 1031.9,1187.3 1032.3,1186.3 1032.6,1185.9 1033,1184.2 1033.4,1183.1 1033.8,1182.4 1034.3,1181.6 1034.8,1180.8 1035.4,1179.6 1036,1179.1 1036.7,1178.6 1037.4,1178.1 1038.1,1176.7 1038.9,1177.8 1039.6,1176.9 1040.4,1176.2 1041.2,1174.3 1042,1173.3 1042.8,1171.6 1043.6,1171.3 1044.5,1171.9 1045.3,1170.2 1046.2,1171.3 1047.2,1170.4 1048.1,1170.8 1049,1172 1050,1169.2 1051,1168.8 1051.9,1167.5 1052.9,1168.5 1053.8,1167.6 1054.8,1167.6 1055.8,1169.6 1056.7,1169 1057.7,1169.1 1058.7,1170.2 1059.7,1168.5 1060.7,1168.6 1061.7,1168.7 1062.7,1168.9 1063.8,1168.8 1064.8,1170.5 1065.8,1171.9 1066.8,1169 1067.8,1169.7 1068.8,1165.8 1069.8,1168.3 1070.9,1167.6 1071.9,1168.5 1072.9,1168.8 1073.9,1169.5 1074.9,1170 1075.9,1171.5 1076.9,1172.5 1077.8,1171.8 1078.8,1170.1 1079.8,1170 1080.8,1170.9 1081.8,1171.5 1082.8,1174.7 1083.8,1172.9 1084.8,1171.5 1085.8,1170.1 1086.8,1169 1087.8,1170 1088.8,1169 1089.8,1167.4 1090.8,1169.5 1091.8,1168.8 1092.8,1170.8 1093.8,1167.6 1094.8,1165.2 1095.8,1163.1 1096.8,1162.3 1097.8,1164.9 1098.8,1165.9 1099.7,1169.9 1100.7,1169.7 1101.7,1168.8 1102.7,1169.2 1103.7,1168.3 1104.7,1168.7 1105.7,1167.8 1106.7,1168.8 1107.7,1169.5 1108.7,1170.9 1109.7,1171.2 1110.7,1171 1111.7,1169.9 1112.7,1169.6 1113.7,1169 1114.7,1168.7 1115.7,1166.3 1116.7,1167.5 1117.7,1166.9 1118.7,1168.8 1119.7,1170.2 1120.7,1170 1121.7,1171 1122.6,1169.1 1123.6,1169.8 1124.6,1169.7 1125.6,1168.7 1126.6,1169.4 1127.6,1169.7 1128.6,1168.1 1129.6,1168 1130.6,1167.5 1131.6,1168.6 1132.6,1169 1133.6,1169.9 1134.6,1170.7 1135.6,1171 1136.6,1170.2 1137.6,1169.1 1138.6,1167.5 1139.6,1164.7 1140.6,1162.9 1141.6,1166.3 1142.6,1166.7 1143.6,1170 1144.6,1168.5 1145.6,1169.9 1146.6,1167.1 1147.6,1167.7 1148.6,1167.3 1149.6,1164.7 1150.6,1165.6 1151.6,1163.7 1152.6,1162.9 1153.6,1164.5 1154.6,1164.9 1155.6,1165.3 1156.6,1164.6 1157.6,1167.2 1158.6,1167.2 1159.6,1167.4 1160.6,1167.7 1161.6,1166.5 1162.6,1167.1 1163.6,1168.5 1164.6,1168.4 1165.6,1167.5 1166.6,1167.7 1167.6,1169 1168.6,1168.8 1169.6,1167.8 1170.6,1165.8 1171.6,1166.7 1172.6,1167.1 1173.6,1168.5 1174.6,1168.5 1175.6,1167.3 1176.6,1167.1 1177.6,1165.2 1178.6,1166.9 1179.6,1166.1 1180.6,1167.2 1181.6,1167.8 1182.6,1166.2 1183.6,1166 1184.6,1164.9 1185.6,1166.5 1186.6,1166.4 1187.6,1166.4 1188.6,1167.2 1189.6,1165.7 1190.6,1167.5 1191.6,1167.7 1192.6,1167 1193.6,1167.3 1194.6,1167.6 1195.6,1166.4 1196.6,1166.7 1197.6,1167.6 1198.6,1168.4 1199.6,1168.5 1200.6,1167.3 1201.6,1168.4 1202.6,1166.5 1203.6,1167.5 1204.6,1166.8 1205.6,1166.6 1206.6,1167.7 1207.6,1165.8 1208.6,1165.9 1209.6,1166.8 1210.6,1167.6 1211.6,1166.5 1212.6,1167.7 1213.6,1166.9 1214.6,1167.9 1215.6,1168.3 1216.6,1167.3 1217.6,1167 1218.6,1167.1 1219.6,1164.7 1220.6,1167.1 1221.6,1166.7 1222.6,1166.3 1223.6,1165.8 1224.6,1165.5 1225.6,1165.7 1226.6,1166.5 1227.6,1165.4 1228.6,1166.4 1229.6,1164 1230.6,1166.1 1231.6,1167.2 1232.6,1167.2 1233.6,1165.7 1234.6,1166 1235.6,1167 1236.6,1166 1237.6,1167 1238.6,1167.8 1239.6,1168.8 1240.6,1170 1241.6,1170.4 1242.6,1168.4 1243.6,1168.6 1244.6,1164.9 1245.6,1162.6 1246.6,1164.6 1247.6,1164.3 1248.6,1164.5 1249.6,1165.4 1250.6,1165 1251.6,1164.5 1252.6,1164.5 1253.5,1164.8 1254.5,1163.8 1255.5,1162 1256.5,1165.2 1257.5,1163.4 1258.5,1165 1259.5,1165.4 1260.4,1164.8 1261.4,1162.9 1262.4,1162.4 1263.4,1163.6 1264.3,1162.6 1265.3,1162.1 1266.3,1162.8 1267.2,1160.5 1268.2,1159.5 1269.1,1158.6 1270.1,1159.3 1271,1159.5 1271.9,1161.1 1272.9,1161.2 1273.8,1161.4 1274.7,1163.6 1275.6,1163.8 1276.5,1165.9 1277.5,1165.9 1278.4,1167.9 1279.3,1167.3 1280.2,1164.4 1281.2,1164.1 1282.1,1164 1283.1,1166.7 1284,1165.3 1285,1168.2 1286,1168.8 1287,1168.9 1287.9,1169.5 1288.9,1167.9 1289.9,1166.7 1290.9,1165.3 1291.9,1164.6 1292.9,1167.1 1293.9,1168.6 1294.9,1170.5 1295.9,1169.4 1296.9,1168.1 1298,1164.5 1299,1164.1 1300,1165.9 1301,1167 1302,1168.4 1303,1166 1304,1166.9 1305,1166.2 1306,1166.7 1307,1164.9 1308,1166.4 1309,1167 1310,1166.6 1311,1166.6 1312,1166.1 1313,1164.1 1314,1164.8 1315,1163.6 1316,1163.4 1317,1166.4 1318,1166.2 1319,1167.3 1320,1167.3 1321,1166.7 1322,1167.8 1323,1167.5 1324,1168.7 1325,1168.4 1326,1168 1327,1169.1 1328,1167.8 1329,1167.8 1330,1168 1331,1168.2 1332,1169.1 1333,1168 1334,1169 1335,1169.1 1336,1168.5 1337,1168.4 1338,1168.7 1339,1168.8 1340,1168.5 1341,1168.5 1342,1167.9 1343,1167.3 1344,1167.6 1345,1166.2 1346,1165.5 1347,1166.1 1348,1165.1 1349,1165.6 1350,1165.3 1351,1165.4 1352,1165.7 1353,1165 1354,1164.9 1355,1163.6 1356,1164.6 1357,1164.3 1358,1166.1 1359,1164.7 1360,1166.9 1361,1168 1362,1166.5 1362.9,1168.4 1363.9,1168.5 1364.9,1168.2 1365.9,1166.7 1366.9,1167.9 1367.9,1168.1 1368.8,1167.6 1369.8,1169.2 1370.8,1168.2 1371.8,1167.8 1372.7,1167.1 1373.7,1168.2 1374.7,1168.8 1375.7,1170.4 1376.6,1170.8 1377.6,1170.6 1378.6,1171.4 1379.6,1172.8 1380.5,1172.4 1381.5,1173.5 1382.5,1174 1383.5,1173.8 1384.4,1172.3 1385.4,1174 1386.4,1174 1387.4,1173 1388.3,1171.5 1389.3,1171.9 1390.3,1170.4 1391.3,1169.7 1392.2,1169.2 1393.2,1169.5 1394.2,1168.1 1395.1,1167.8 1396.1,1169.5 1397.1,1168.8 1398.1,1168.5 1399,1168.6 1400,1168.1 1401,1166.6 1401.9,1168.9 1402.9,1169.2 1403.8,1168.5 1404.8,1166.8 1405.8,1169 1406.7,1169.3 1407.7,1168.4 1408.6,1169.3 1409.6,1170 1410.5,1169.2 1411.5,1169.7 1412.4,1168.7 1413.4,1169.1 1414.4,1168.7 1415.3,1167.5 1416.3,1168.3 1417.3,1172.6 1418.2,1171.7 1419.2,1173.7 1420.2,1174 1421.2,1174.8 1422.1,1174.3 1423.1,1172.7 1424.1,1171.6 1425.1,1168.6 1426.1,1168.7 1427.1,1170.3 1428.1,1169 1429.1,1171.5 1430.1,1171.8 1431,1171.8 1432,1169.6 1433,1169.6 1434,1168.9 1435,1169.7 1436,1171.1 1437,1171.8 1438,1169.1 1439,1170.5 1440,1169.9 1441,1169.5 1442,1171.7 1443,1168.5 1444,1170.5 1445,1171 1446,1172.7 1447,1172.5 1448,1172.8 1449,1171.3 1450,1171.8 1451,1171.9 1452,1171.2 1453,1170.9 1454,1170.1 1455,1169.6 1456,1168.6 1457,1170.6 1458,1168.5 1459,1167.1 1460,1168.8 1461,1170 1462,1171.7" fill="none" stroke="#000" stroke-width="4.3" stroke-linejoin="miter" stroke-linecap="butt" stroke-miterlimit="3"/>
<polyline points="64.9,1242.5 65.8,1240.9 66.8,1242.4 67.7,1242.5 68.6,1240.7 69.6,1241.4 70.5,1238.3 71.4,1237.6 72.4,1240.5 73.3,1239.7 74.3,1239.3 75.2,1238.9 76.2,1237.5 77.1,1234.6 78.1,1235.1 79.1,1235.9 80,1235 81,1235.5 81.9,1236.1 82.9,1238.1 83.9,1238.3 84.9,1238.8 85.8,1238.4 86.8,1238.7 87.8,1239.7 88.8,1240.1 89.8,1239.8 90.8,1239.5 91.8,1239.4 92.8,1238.1 93.8,1237.3 94.8,1235.2 95.9,1235.3 96.9,1236.1 97.8,1236.9 98.8,1235.6 99.8,1235.5 100.8,1234.8 101.8,1235.1 102.7,1236 103.7,1235.8 104.6,1235.8 105.6,1233.6 106.5,1235.1 107.5,1233.6 108.4,1233.5 109.3,1230.1 110.3,1230.2 111.2,1229.1 112.1,1231.3 113.1,1231.1 114,1232.7 115,1230.2 115.9,1230.7 116.9,1227.7 117.8,1229.1 118.8,1227.8 119.8,1227.7 120.7,1229.5 121.7,1229.7 122.7,1231.1 123.7,1231.3 124.7,1230.8 125.7,1229.4 126.7,1227.1 127.7,1226.7 128.7,1224.4 129.6,1226.5 130.6,1225.2 131.5,1227.2 132.5,1226.5 133.4,1226.9 134.3,1227.1 135.1,1227.3 136,1227.4 136.8,1226.9 137.7,1227 138.5,1228.1 139.3,1228.8 140.1,1229.3 141,1231.9 141.8,1234.5 142.6,1237.3 143.4,1236.2 144.3,1234.5 145.1,1232.6 146,1231.9 146.9,1233.9 147.7,1233 148.6,1232.1 149.5,1232.7 150.4,1229.4 151.3,1230.2 152.2,1229.6 153.1,1228.9 154,1229.7 154.9,1228.5 155.8,1228.4 156.7,1227.2 157.6,1226.3 158.6,1228.9 159.5,1226.5 160.5,1227.5 161.5,1226.4 162.4,1226.7 163.4,1224.9 164.4,1225 165.4,1223.2 166.4,1226.3 167.4,1225.9 168.4,1224.8 169.4,1226.4 170.4,1226.3 171.5,1227.7 172.5,1225.2 173.5,1225.2 174.4,1224.5 175.4,1224.1 176.4,1223 177.4,1222.2 178.4,1223.5 179.4,1224.2 180.4,1222.8 181.4,1223.1 182.4,1224.2 183.3,1225.9 184.3,1224.5 185.3,1222.9 186.3,1224.2 187.3,1223.7 188.3,1224.4 189.3,1222.9 190.3,1224 191.3,1222 192.3,1223.6 193.3,1223.4 194.3,1222.8 195.3,1222.4 196.3,1222.5 197.3,1221.3 198.3,1219.9 199.3,1221.1 200.3,1221.1 201.3,1221.2 202.2,1220.9 203.2,1221.1 204.2,1220.4 205.2,1221.3 206.2,1221.9 207.1,1221.7 208.1,1222 209,1221.6 209.9,1221 210.8,1220.8 211.7,1218.3 212.7,1217.6 213.6,1216.9 214.5,1215.3 215.4,1214.6 216.3,1212.9 217.2,1213.2 218.1,1212.9 219,1213 219.9,1215.1 220.9,1215.5 221.8,1212.5 222.8,1213.2 223.7,1212.6 224.6,1212.2 225.6,1211.6 226.6,1209.4 227.5,1208.7 228.5,1210.6 229.4,1211.3 230.4,1210.2 231.4,1208.6 232.3,1206.6 233.3,1208.2 234.3,1205.8 235.3,1206 236.2,1208.4 237.2,1209 238.2,1210.5 239.2,1211.5 240.2,1212.9 241.2,1211.7 242.2,1209.2 243.2,1209.4 244.2,1208.2 245.2,1208.3 246.2,1211 247.2,1209.4 248.2,1207.1 249.2,1207.7 250.2,1206.6 251.2,1209 252.2,1210.1 253.2,1211.1 254.2,1210.7 255.2,1210.9 256.2,1208.7 257.2,1209.6 258.2,1210.2 259.2,1212.8 260.2,1215.3 261.2,1213.5 262.2,1213 263.2,1211.7 264.2,1210 265.2,1210.2 266.2,1210.1 267.2,1210.3 268.2,1210.4 269.3,1212.2 270.3,1212 271.3,1212.6 272.3,1212.3 273.3,1211.2 274.3,1212.7 275.3,1212 276.3,1212 277.3,1212 278.3,1208.8 279.2,1207.8 280.2,1206.6 281.2,1207.7 282.2,1207.1 283.1,1208.7 284.1,1208.2 285,1209.4 286,1210.8 286.9,1213 287.9,1211.1 288.8,1211.9 289.8,1212 290.7,1211.9 291.7,1212.1 292.6,1213 293.6,1212.9 294.6,1212.3 295.6,1213.9 296.5,1213.3 297.5,1213.7 298.5,1214.9 299.5,1215.6 300.5,1214.8 301.5,1214.3 302.5,1213.6 303.5,1213.8 304.5,1216.4 305.5,1216.2 306.5,1215.7 307.5,1218.2 308.5,1216.7 309.5,1216.6 310.5,1215.1 311.5,1213.4 312.5,1214.7 313.5,1215.4 314.6,1215.5 315.6,1216.7 316.6,1215 317.6,1215.2 318.6,1214.5 319.6,1213.7 320.6,1212.2 321.5,1211.6 322.5,1210.2 323.5,1212.1 324.5,1211.9 325.4,1212.9 326.4,1212.8 327.4,1214.3 328.3,1214.8 329.3,1216 330.2,1218.1 331.2,1219.2 332.1,1220 333.1,1220.3 334,1220.6 335,1221.9 335.9,1221.6 336.9,1219.9 337.8,1219.2 338.8,1219.7 339.7,1219.1 340.6,1217.5 341.6,1218.6 342.5,1214.6 343.4,1214.4 344.4,1214.9 345.3,1215.1 346.3,1213 347.2,1214.1 348.2,1215.9 349.1,1216.5 350.1,1215.6 351,1214.3 352,1212.2 353,1211.7 354,1211.2 354.9,1211.4 355.9,1212.8 356.9,1214.2 357.9,1212.4 358.9,1213.4 359.9,1212.7 360.9,1212.4 361.9,1212.1 362.9,1212.3 363.9,1212.1 364.9,1213.4 365.9,1213.9 366.9,1214.7 367.9,1213 368.9,1212.9 369.9,1212.3 370.9,1213.3 371.9,1212.6 372.9,1211.2 373.9,1210.6 374.9,1210.5 375.9,1211.1 376.9,1210 377.9,1208.8 378.9,1207.3 379.9,1206.5 380.9,1208.4 381.9,1208.4 382.9,1210.4 383.9,1213.4 384.9,1212.9 385.9,1211.7 386.9,1213.6 387.9,1211.4 388.9,1212.2 389.9,1209.3 390.9,1210 391.9,1211.1 392.9,1209.9 393.9,1209.8 394.9,1210.2 395.9,1210.1 396.9,1209.6 397.9,1209.9 398.9,1212.4 399.9,1212.9 400.9,1212.7 401.9,1211.9 402.9,1212.7 403.9,1213.1 404.9,1214 405.9,1214.9 406.9,1213.5 407.9,1214.1 408.9,1214 409.9,1214.7 410.9,1214.4 411.9,1214.2 412.9,1213.8 413.8,1211.7 414.8,1212.1 415.8,1213.9 416.8,1214.2 417.8,1217.6 418.8,1215.3 419.8,1216 420.8,1215.6 421.8,1217.7 422.8,1216.7 423.8,1217.1 424.8,1219.2 425.8,1217.7 426.8,1217.1 427.8,1217.7 428.8,1217.3 429.8,1216 430.8,1215.9 431.8,1215.9 432.8,1217.2 433.8,1217.9 434.8,1218.4 435.8,1217.6 436.8,1218.3 437.8,1217.5 438.8,1218 439.8,1216.7 440.8,1215.3 441.8,1215.7 442.8,1212.8 443.8,1212.3 444.8,1211.8 445.8,1213.1 446.8,1213.1 447.8,1214 448.8,1214.1 449.8,1216.2 450.8,1216.1 451.8,1218.8 452.8,1217.3 453.8,1215.5 454.8,1217 455.8,1216.1 456.8,1217 457.8,1215.4 458.8,1217.7 459.8,1219.1 460.8,1219.3 461.8,1220.4 462.7,1219.7 463.7,1219.2 464.7,1219.8 465.7,1219 466.7,1219 467.7,1217.9 468.7,1217.9 469.7,1218.1 470.7,1217.3 471.7,1216.8 472.7,1216.4 473.7,1216.6 474.7,1215.2 475.7,1215.5 476.7,1216.2 477.6,1217.3 478.6,1218.3 479.6,1218.4 480.6,1216.6 481.6,1216.5 482.6,1214.8 483.6,1215.8 484.6,1214 485.6,1214.8 486.6,1215.1 487.6,1214.7 488.6,1215.1 489.6,1214.5 490.6,1215 491.6,1214.6 492.6,1214.8 493.6,1214 494.6,1212.9 495.6,1212.7 496.5,1212.9 497.5,1211.8 498.5,1212.7 499.5,1213.6 500.5,1212.8 501.5,1213.7 502.5,1213.9 503.5,1212.6 504.5,1214 505.5,1214.8 506.5,1212.8 507.5,1216 508.5,1214.8 509.5,1216.8 510.5,1214 511.5,1215.9 512.4,1214.8 513.4,1213.9 514.4,1214.3 515.4,1214.2 516.4,1214.7 517.4,1216.3 518.4,1216.5 519.4,1215.1 520.4,1215.9 521.3,1215.6 522.3,1214.4 523.3,1215.5 524.3,1212.9 525.3,1214.5 526.3,1214.6 527.3,1215.6 528.3,1214.6 529.3,1215 530.2,1215.4 531.2,1215.1 532.2,1213.2 533.2,1214.7 534.2,1214.7 535.2,1215.5 536.2,1213.2 537.2,1215.5 538.2,1214.4 539.2,1214.8 540.2,1215.1 541.2,1215.1 542.2,1213.2 543.2,1212.9 544.2,1214.8 545.2,1214.1 546.2,1215.5 547.2,1215.4 548.2,1215.2 549.2,1216.3 550.2,1217.4 551.2,1215.5 552.2,1215.2 553.2,1214.4 554.2,1215.5 555.2,1214.9 556.2,1214.3 557.3,1214.6 558.3,1215 559.3,1213.3 560.3,1214.4 561.3,1214.6 562.3,1217.2 563.2,1217 564.2,1218 565.2,1218 566.2,1219.6 567.2,1218 568.2,1215.3 569.1,1214.8 570.1,1212.3 571.1,1214.7 572,1214.5 573,1214.2 573.9,1214.8 574.9,1212.6 575.8,1215.6 576.8,1213.6 577.7,1213.2 578.7,1213.3 579.6,1209.1 580.6,1209.1 581.6,1208.8 582.5,1208 583.5,1206.1 584.5,1206.5 585.4,1208.1 586.4,1206.7 587.4,1207.8 588.3,1206.6 589.3,1207.3 590.3,1206.3 591.3,1207.4 592.2,1207.6 593.2,1206.4 594.2,1205.7 595.2,1205.6 596.1,1205.3 597.1,1205.6 598.1,1207.2 599.1,1209.1 600.1,1208.8 601,1205.3 602,1203.3 603,1204.5 604,1204.4 605,1205.1 606,1205.3 607,1205.2 608,1206.6 609,1207.3 610,1207.3 611,1204.8 612,1205.4 613.1,1203.4 614.1,1203.7 615.1,1204.5 616.1,1204.3 617.1,1206.6 618.1,1205.6 619.1,1205.7 620.1,1205.3 621,1204.6 622,1203.2 623,1202.7 623.9,1202.4 624.8,1202.1 625.8,1200.4 626.6,1200.7 627.5,1200.7 628.4,1199.6 629.2,1200 630.1,1199.5 630.9,1199.4 631.8,1199.4 632.6,1198.4 633.5,1199.4 634.4,1198.6 635.3,1197.3 636.3,1198.8 637.2,1199.7 638.2,1199.3 639.2,1198.9 640.2,1198.7 641.2,1195.2 642.3,1195.6 643.3,1197.1 644.3,1197.6 645.3,1196.7 646.3,1198.2 647.3,1199.4 648.3,1198 649.3,1197.9 650.3,1198 651.3,1197.2 652.3,1198.3 653.3,1197.5 654.3,1197.3 655.3,1197.3 656.3,1197 657.3,1198.3 658.3,1199.6 659.3,1201.2 660.3,1198.3 661.3,1198.9 662.3,1198 663.3,1198.7 664.2,1199.3 665.2,1199 666.2,1200.4 667.2,1201.4 668.1,1202.2 669.1,1203.2 670,1201.9 671,1202.2 672,1201 672.9,1202.4 673.9,1203.4 674.9,1203 675.8,1203.4 676.8,1204.9 677.7,1204 678.7,1204.9 679.7,1204.5 680.6,1203 681.6,1203.8 682.6,1201.7 683.5,1202.8 684.5,1202.4 685.5,1200.7 686.4,1202.4 687.4,1202.2 688.4,1202.5 689.4,1201.3 690.3,1200.1 691.3,1199.4 692.3,1199.1 693.2,1199.9 694.2,1199.1 695.2,1200.4 696.2,1200.1 697.2,1199 698.1,1200.5 699.1,1197.7 700.1,1198.8 701.1,1197.5 702.1,1197.9 703.1,1199.8 704.1,1199.9 705.1,1200.8 706.1,1202.1 707.1,1200.6 708.1,1200.6 709.1,1202 710.2,1201.9 711.2,1200.4 712.2,1201.7 713.2,1201.3 714.2,1199.7 715.2,1198.7 716.2,1198.9 717.2,1199.3 718.2,1199 719.2,1200.3 720.2,1198.2 721.2,1199 722.2,1200.3 723.2,1197.8 724.2,1198.5 725.3,1196.7 726.3,1197.6 727.3,1196.9 728.2,1197.4 729.2,1196.5 730.2,1198.1 731.1,1196 732,1196.8 732.8,1197.7 733.7,1199.2 734.5,1200.6 735.4,1200.4 736.2,1203 737,1202.1 737.7,1202 738.5,1201.8 739.2,1203.2 739.9,1202.6 740.5,1203.3 741.2,1201.8 741.8,1201 742.3,1199.5 742.9,1199.1 743.5,1198.8 744.1,1197.7 744.7,1196.7 745.3,1195.9 745.9,1196.4 746.5,1195 747.2,1193.7 747.9,1193.6 748.6,1191 749.4,1192.3 750.3,1192.6 751.2,1194.6 752.2,1194.3 753.2,1192.1 754.2,1189.8 755.2,1189.3 756.2,1189.1 757.1,1187.4 758.1,1184.5 759.1,1185.8 760.1,1185.3 761.1,1185 762.1,1184.7 763.2,1187.5 764.2,1187.4 765.2,1190.3 766.2,1188.5 767.2,1187.9 768.1,1188.3 769,1188.3 769.9,1188.2 770.7,1188.5 771.5,1189.6 772.3,1190.7 773,1191.5 773.7,1192.4 774.4,1192.9 775.1,1193.7 775.9,1194.2 776.8,1195.5 777.7,1195.1 778.6,1195.9 779.5,1196.8 780.5,1196.9 781.5,1197.7 782.5,1196.2 783.6,1195 784.6,1195 785.7,1196.4 786.7,1194.6 787.8,1194.1 788.8,1195.7 789.8,1194.7 790.9,1196.6 791.9,1195.3 792.9,1195.7 793.9,1196.9 794.9,1195.9 795.9,1197 796.8,1199 797.8,1198.2 798.8,1197.4 799.8,1198.3 800.8,1198.6 801.8,1197.8 802.8,1198.5 803.8,1198.8 804.8,1197.4 805.7,1197.5 806.7,1196.4 807.7,1196.5 808.7,1196.6 809.6,1198.6 810.6,1199.1 811.6,1196.9 812.5,1195.6 813.5,1195.7 814.5,1195.3 815.5,1196.1 816.4,1195.9 817.4,1195.5 818.4,1194.4 819.4,1195.7 820.4,1195 821.5,1193.4 822.5,1192.5 823.5,1191.7 824.6,1193.7 825.6,1193.6 826.6,1192.2 827.6,1194.5 828.6,1194.2 829.6,1194.1 830.6,1193.7 831.5,1193.6 832.4,1194.8 833.3,1195.7 834.1,1195.7 834.9,1197.6 835.7,1197.6 836.5,1198.1 837.3,1199.1 838.1,1198.4 838.9,1199.2 839.8,1198.1 840.8,1197.9 841.8,1197.7 842.9,1195.3 843.9,1197.8 845,1198.1 846,1198.1 847.1,1198.9 848,1198.6 848.9,1198.1 849.7,1197.8 850.4,1198.9 851.1,1198.6 851.8,1197.1 852.4,1197.2 853,1196.6 853.6,1196.8 854.1,1195.4 854.7,1193.9 855.4,1193.7 856,1192.1 856.7,1191 857.4,1190 858.2,1188.7 858.9,1188.1 859.7,1188.1 860.5,1187.4 861.4,1186.2 862.2,1185.5 863,1185.6 863.9,1183.2 864.7,1182.6 865.6,1183.5 866.5,1182.7 867.3,1184.7 868.2,1182.7 869,1182 869.9,1181.4 870.8,1182.4 871.7,1180.4 872.6,1181.1 873.5,1179.3 874.4,1180.4 875.3,1178.8 876.3,1179.5 877.2,1177.9 878.1,1177.1 879,1177.1 879.9,1178.5 880.8,1177.9 881.7,1179 882.7,1177.5 883.6,1175.8 884.5,1174.3 885.4,1174.3 886.3,1172 887.3,1172.3 888.2,1172.1 889.1,1171.4 890.1,1171.7 891,1174.9 892,1175.4 892.9,1173.2 893.9,1171.8 895,1172.7 896,1172.1 897.1,1171.6 898.2,1172 899.2,1170.4 900.2,1171.5 901.2,1171.2 902.1,1171 902.9,1172.5 903.7,1172.5 904.5,1173.8 905.2,1172.4 905.9,1174.6 906.6,1175.7 907.3,1177.4 907.9,1177.9 908.5,1178.1 909.2,1178.6 909.8,1179.2 910.4,1180.2 911,1181.2 911.6,1181.2 912.1,1183.2 912.7,1183.4 913.2,1184.4 913.6,1185.2 914.1,1186 914.5,1187.1 914.9,1187.7 915.3,1188.9 915.6,1190.2 916,1191 916.3,1191.7 916.6,1192.7 916.9,1193.5 917.2,1194.4 917.5,1195.4 917.8,1195.9 918.1,1196.9 918.4,1198 918.7,1199 919.1,1200.1 919.4,1201 919.8,1202.1 920.2,1202.8 920.7,1204.3 921.1,1205.5 921.6,1205.9 922.1,1207 922.5,1207.9 923,1208.7 923.3,1209.5 923.7,1210.2 924,1211.2 924.2,1212.3 924.4,1213.1 924.6,1214.1 924.7,1215 924.9,1216 925,1217 925.2,1218.1 925.3,1219 925.4,1220.1 925.5,1221.1 925.7,1222.1 925.8,1223.1 925.9,1224.1 926,1225.1 926.1,1226.1 926.2,1227.1 926.3,1228.1 926.4,1229.1 926.6,1230.2 926.7,1231.1 926.9,1232.2 927,1233.1 927.2,1234.2 927.4,1235.2 927.6,1236.2 927.8,1237.3 928,1238 928.3,1239.2 928.6,1240.2 928.8,1241.1 929.1,1242 929.4,1242.8 929.7,1243.6 930,1244.7 930.3,1245.7 930.6,1246.6 930.9,1247.7 931.2,1248.9 931.5,1249.7 931.8,1250.8 932,1251.8 932.3,1252.6 932.6,1253.4 932.9,1254.5 933.2,1255.4 933.4,1256.3 933.7,1257.3 934,1258 934.3,1259.1 934.6,1259.9 934.9,1260.9 935.2,1262 935.5,1262.9 935.8,1263.8 936,1264.8 936.3,1265.8 936.6,1266.8 936.9,1267.6 937.1,1268.7 937.4,1269.5 937.6,1270.7 937.9,1271.7 938.1,1272.5 938.4,1273.6 938.6,1274.6 938.8,1275.5 939,1276.5 939.2,1277.6 939.4,1278.4 939.6,1279.4 939.8,1280.4 940,1281.3 940.2,1282.3 940.4,1283.4 940.6,1284.4 940.8,1285.5 941,1286.4 941.2,1287.2 941.4,1288.2 941.6,1289.2 941.8,1290.2 942,1291.1 942.2,1292.3 942.4,1293.1 942.7,1294.3 942.9,1295.5 943.2,1296.4 943.4,1297.4 943.7,1298.1 943.9,1299 944.2,1300.1 944.4,1301.1 944.7,1302.1 945,1303.1 945.3,1304.3 945.6,1305.1 945.9,1306.2 946.3,1306.7 946.6,1307.7 947,1308.3 947.4,1309.4 947.8,1310.3 948.3,1311.5 948.8,1312.4 949.3,1313.6 949.9,1314.1 950.5,1315 951.1,1316.1 951.7,1316.5 952.3,1317.2 952.9,1318.2 953.5,1319.6 954.1,1318.6 954.6,1319.4 955.1,1320.4 955.6,1320.8 956.1,1319.9 956.6,1318.4 957.1,1317.2 957.5,1315.4 958,1314.2 958.5,1312.7 958.9,1311.6 959.4,1310.5 959.9,1308.8 960.5,1308.4 961,1307.7 961.6,1307 962.2,1307.2 962.9,1307.6 963.8,1307.6 964.7,1309.7 965.5,1311.3 966.1,1312.4 966.4,1312.3 966.6,1313.1 966.8,1313.8 967,1314.6 967.2,1315.4 967.3,1316.3 967.5,1317.3 967.6,1318.3 967.7,1319.2 967.9,1320.3 968,1321.2 968.1,1322.2 968.2,1323.2 968.3,1324.3 968.4,1325.3 968.5,1326.3 968.6,1327.4 968.6,1328.4 968.7,1329.5 968.8,1330.6 968.8,1331.6 968.9,1332.7 968.9,1333.8 969,1334.8 969,1335.9 969.1,1336.9 969.1,1337.9 969.2,1338.9 969.2,1339.9 969.2,1340.9 969.3,1341.9 969.3,1342.9 969.3,1343.9 969.4,1344.9 969.4,1345.9 969.4,1346.9 969.4,1347.9 969.5,1348.9 969.5,1349.9 969.5,1350.9 969.5,1351.9 969.6,1352.9 969.6,1353.9 969.6,1354.9 969.6,1355.9 969.6,1356.9 969.7,1357.9 969.7,1358.9 969.7,1359.9 969.7,1360.9 969.7,1361.9 969.7,1362.9 969.8,1363.9 969.8,1364.9 969.8,1365.9 969.8,1366.9 969.8,1368 969.8,1369 969.8,1370 969.9,1371 969.9,1372 969.9,1373 969.9,1374 969.9,1375 969.9,1376 969.9,1377 969.9,1378 970,1379 970,1380 970,1381 970,1382 970,1383 970,1384 970.1,1385 970.1,1386 970.1,1387 970.1,1388 970.1,1389 970.1,1390 970.2,1391 970.2,1392 970.2,1393 970.2,1394 970.3,1395 970.3,1396 970.3,1397 970.3,1398 970.4,1399 970.4,1400 970.4,1401 970.5,1402 970.5,1403 970.6,1404 970.6,1405 970.7,1406 970.7,1407 970.8,1408 970.9,1409 970.9,1410 971,1411 971.1,1412 971.1,1413 971.2,1414 971.3,1415 971.4,1416 971.5,1417 971.6,1417.9 971.6,1418.9 971.7,1420 971.8,1420.9 971.9,1422 972,1423 972.1,1424 972.1,1424.9 972.2,1426 972.3,1427 972.4,1428 972.5,1429 972.5,1430 972.6,1431 972.7,1432 972.7,1433 972.8,1433.9 972.9,1434.9 972.9,1435.9 973,1436.9 973,1437.9 973.1,1438.9 973.1,1439.9 973.1,1440.9 973.1,1441.9 973.2,1442.9 973.2,1443.9 973.2,1444.9 973.2,1445.9 973.2,1446.9 973.2,1447.9 973.2,1448.9 973.2,1449.9 973.2,1450.9 973.2,1451.9 973.2,1452.9 973.2,1453.9 973.2,1454.9 973.2,1455.9 973.2,1456.9 973.2,1457.9 973.2,1458.9 973.2,1459.9 973.2,1460.9 973.2,1461.9 973.2,1462.9 973.2,1463.9 973.2,1464.9 973.2,1465.9 973.2,1466.9 973.2,1467.9 973.2,1468.9 973.2,1469.9 973.2,1470.9 973.2,1471.9 973.2,1472.9 973.3,1473.9 973.3,1474.9 973.3,1475.9 973.3,1476.9 973.3,1478 973.3,1479 973.3,1480 973.3,1481 973.3,1482 973.3,1483 973.3,1484 973.3,1485 973.3,1486 973.3,1487 973.3,1488 973.3,1489 973.3,1490 973.3,1491 973.3,1492 973.3,1493 973.3,1494 973.3,1495 973.3,1496 973.3,1497 973.3,1498 973.3,1499 973.3,1500 973.3,1501 973.3,1502 973.3,1503 973.3,1504 973.3,1505 973.3,1506 973.3,1507 973.3,1508 973.3,1509 973.3,1510 973.3,1511 973.3,1512 973.3,1513 973.3,1514 973.3,1515 973.3,1516 973.4,1517 973.4,1518 973.4,1519 973.4,1520 973.4,1521 973.4,1522 973.4,1523 973.4,1524 973.5,1525 973.5,1526 973.5,1527 973.5,1528 973.5,1529 973.5,1530 973.6,1531 973.6,1532 973.6,1533 973.6,1534 973.6,1535 973.7,1536 973.7,1537 973.7,1538 973.7,1539 973.7,1540 973.8,1541 973.8,1542 973.8,1543 973.8,1544 973.8,1545 973.9,1546 973.9,1547 973.9,1548 973.9,1549 974,1550 974,1551 974,1552 974,1553 974.1,1554 974.1,1555 974.1,1556 974.1,1557 974.1,1558 974.2,1559 974.2,1560 974.2,1561 974.2,1562 974.3,1563 974.3,1564 974.3,1565 974.3,1566 974.3,1567 974.4,1568 974.4,1569 974.4,1570 974.4,1571 974.4,1572 974.5,1573 974.5,1574 974.5,1575 974.5,1576 974.5,1577 974.5,1578 974.6,1579 974.6,1580 974.6,1581 974.6,1582 974.6,1583 974.6,1584 974.6,1585 974.7,1586 974.7,1587 974.7,1588 974.7,1589 974.7,1590 974.7,1591 974.7,1592 974.7,1593 974.7,1594 974.8,1595 974.8,1596 974.8,1597 974.8,1598 974.8,1599 974.8,1600 974.8,1601 974.8,1602 974.8,1603 974.8,1604 974.9,1605 974.9,1606 974.9,1607 974.9,1608 974.9,1609 974.9,1610 974.9,1611 974.9,1612 974.9,1613 974.9,1614 974.9,1615 974.9,1616.1 975,1617.1 975,1618.1 975,1619.1 975,1620.1 975,1621.1 975,1622.1 975,1623.1 975,1624.1 975,1625.1 975,1626.1 975,1627.1 975,1628.1 975.1,1629.1 975.1,1630.1 975.1,1631.1 975.1,1632.1 975.1,1633.1 975.1,1634.1 975.1,1635.1 975.1,1636.1 975.1,1637.1 975.1,1638.1 975.1,1639.1 975.1,1640.1 975.2,1641.1 975.2,1642.1 975.2,1643.1 975.2,1644.1 975.2,1645.1 975.2,1646.1 975.2,1647.1 975.2,1648.1 975.2,1649.1 975.2,1650.1 975.3,1651.1 975.3,1652.1 975.3,1653.1 975.3,1654.1 975.3,1655.1 975.3,1656.1 975.3,1657.1 975.3,1658.1 975.3,1659.1 975.3,1660.1 975.4,1661.1 975.4,1662.1 975.4,1663.1 975.4,1664.1 975.4,1665.1 975.4,1666.1 975.4,1667.1 975.4,1668.1 975.4,1669.1 975.5,1670.1 975.5,1671.1 975.5,1672.1 975.5,1673.1 975.5,1674.1 975.5,1675.1 975.5,1676.1 975.6,1677.1 975.6,1678.1 975.6,1679.1 975.6,1680.1 975.6,1681.1 975.6,1682.1 975.6,1683.1 975.7,1684.1 975.7,1685.1 975.7,1686.1 975.7,1687.1 975.7,1688.1 975.7,1689.1 975.7,1690.1 975.8,1691.1 975.8,1692.1 975.8,1693.1 975.8,1694.1 975.8,1695.1 975.8,1696.1 975.9,1697.1 975.9,1698.1 975.9,1699.1 975.9,1700.1 975.9,1701.1 975.9,1702.1 976,1703.1 976,1704.1 976,1705.1 976,1706.1 976,1707.1 976,1708.1 976.1,1709.1 976.1,1710.1 976.1,1711.1 976.1,1712.1 976.1,1713.1 976.2,1714.1 976.2,1715.1 976.2,1716.1 976.2,1717.1 976.2,1718.1 976.3,1719.1 976.3,1720.1 976.3,1721.1 976.3,1722.1 976.3,1723.1 976.4,1724.1 976.4,1725.1 976.4,1726.1 976.4,1727.1 976.5,1728.1 976.5,1729.1 976.5,1730.1 976.5,1731.1 976.5,1732.1 976.6,1733.1 976.6,1734.1 976.6,1735.1 976.6,1736.1 976.7,1737.1 976.7,1738.1 976.7,1739.1 976.7,1740.1 976.8,1741.1 976.8,1742.1 976.8,1743.1 976.8,1744.1 976.9,1745.1 976.9,1746.1 976.9,1747.1 976.9,1748.1 977,1749.1 977,1750.1 977,1751.1 977.1,1752.1 977.1,1753.1 977.1,1754.1 977.2,1755.1 977.2,1756.1 977.2,1757.1 977.2,1758.1 977.3,1759.1 977.3,1760.1 977.3,1761.2 977.4,1762.3 977.4,1763.5 977.5,1764.7 977.5,1765.9 977.5,1767.2 977.6,1768.5 977.6,1769.9 977.7,1771.2 977.7,1772.5 977.8,1773.9 977.8,1775.2 977.9,1776.4 978,1777.7 978,1778.8 978.1,1780 978.1,1781.1 978.2,1782.1 978.2,1783 978.3,1783.8 978.3,1784.6 978.4,1785.2 978.4,1785.7 978.5,1786 978.5,1786.3 978.6,1786.9 978.6,1786.7 978.7,1786.3 978.7,1786 978.8,1785.5 978.8,1785 978.9,1784.4 978.9,1783.6 979,1782.7 979,1781.8 979,1780.8 979.1,1779.7 979.1,1778.5 979.2,1777.3 979.2,1776.1 979.3,1774.8 979.3,1773.5 979.4,1772.2 979.4,1770.8 979.4,1769.5 979.5,1768.2 979.5,1766.9 979.6,1765.6 979.6,1764.4 979.6,1763.2 979.6,1762 979.7,1760.9 979.7,1759.9 979.7,1758.9 979.8,1757.9 979.8,1756.9 979.8,1755.9 979.8,1754.9 979.8,1753.9 979.9,1752.9 979.9,1751.9 979.9,1750.9 979.9,1749.9 980,1748.9 980,1747.9 980,1746.9 980,1745.9 980,1744.9 980,1743.9 980.1,1742.9 980.1,1741.9 980.1,1740.9 980.1,1739.9 980.1,1738.9 980.1,1737.9 980.2,1736.9 980.2,1735.9 980.2,1734.9 980.2,1733.9 980.2,1732.9 980.2,1731.9 980.3,1730.9 980.3,1729.9 980.3,1728.9 980.3,1727.9 980.3,1726.9 980.3,1725.9 980.3,1724.9 980.4,1723.9 980.4,1722.9 980.4,1721.9 980.4,1720.9 980.4,1719.9 980.4,1718.8 980.4,1717.8 980.4,1716.8 980.5,1715.8 980.5,1714.8 980.5,1713.8 980.5,1712.8 980.5,1711.8 980.5,1710.8 980.5,1709.8 980.5,1708.8 980.6,1707.8 980.6,1706.8 980.6,1705.8 980.6,1704.8 980.6,1703.8 980.6,1702.8 980.6,1701.8 980.6,1700.8 980.7,1699.8 980.7,1698.8 980.7,1697.8 980.7,1696.8 980.7,1695.8 980.7,1694.8 980.7,1693.8 980.8,1692.8 980.8,1691.8 980.8,1690.8 980.8,1689.8 980.8,1688.8 980.8,1687.8 980.9,1686.8 980.9,1685.8 980.9,1684.8 980.9,1683.8 980.9,1682.8 980.9,1681.8 981,1680.8 981,1679.8 981,1678.8 981,1677.8 981,1676.8 981,1675.8 981.1,1674.8 981.1,1673.8 981.1,1672.8 981.1,1671.8 981.1,1670.8 981.2,1669.8 981.2,1668.8 981.2,1667.8 981.2,1666.8 981.3,1665.8 981.3,1664.8 981.3,1663.8 981.3,1662.8 981.4,1661.8 981.4,1660.8 981.4,1659.8 981.4,1658.8 981.5,1657.8 981.5,1656.8 981.5,1655.8 981.6,1654.8 981.6,1653.8 981.6,1652.8 981.6,1651.8 981.7,1650.8 981.7,1649.8 981.7,1648.8 981.8,1647.8 981.8,1646.8 981.8,1645.8 981.9,1644.8 981.9,1643.8 981.9,1642.8 982,1641.8 982,1640.8 982,1639.8 982,1638.8 982.1,1637.8 982.1,1636.8 982.1,1635.8 982.2,1634.8 982.2,1633.8 982.2,1632.8 982.3,1631.8 982.3,1630.8 982.3,1629.8 982.4,1628.8 982.4,1627.8 982.4,1626.8 982.5,1625.8 982.5,1624.8 982.5,1623.8 982.6,1622.8 982.6,1621.8 982.6,1620.8 982.7,1619.8 982.7,1618.8 982.7,1617.8 982.8,1616.8 982.8,1615.8 982.8,1614.8 982.9,1613.8 982.9,1612.8 982.9,1611.8 983,1610.8 983,1609.8 983,1608.8 983.1,1607.8 983.1,1606.8 983.1,1605.8 983.1,1604.8 983.2,1603.8 983.2,1602.8 983.2,1601.8 983.3,1600.8 983.3,1599.8 983.3,1598.8 983.3,1597.8 983.4,1596.8 983.4,1595.8 983.4,1594.8 983.4,1593.8 983.5,1592.8 983.5,1591.8 983.5,1590.8 983.5,1589.8 983.6,1588.8 983.6,1587.8 983.6,1586.8 983.6,1585.8 983.6,1584.8 983.7,1583.8 983.7,1582.8 983.7,1581.8 983.7,1580.8 983.7,1579.8 983.8,1578.8 983.8,1577.8 983.8,1576.8 983.8,1575.8 983.8,1574.8 983.8,1573.8 983.9,1572.8 983.9,1571.8 983.9,1570.8 983.9,1569.8 983.9,1568.8 983.9,1567.8 983.9,1566.8 984,1565.8 984,1564.8 984,1563.8 984,1562.8 984,1561.8 984,1560.8 984,1559.8 984.1,1558.8 984.1,1557.8 984.1,1556.8 984.1,1555.8 984.1,1554.8 984.1,1553.8 984.1,1552.8 984.1,1551.8 984.1,1550.8 984.2,1549.8 984.2,1548.8 984.2,1547.8 984.2,1546.8 984.2,1545.8 984.2,1544.8 984.2,1543.8 984.2,1542.8 984.2,1541.8 984.3,1540.8 984.3,1539.8 984.3,1538.8 984.3,1537.8 984.3,1536.8 984.3,1535.7 984.3,1534.7 984.3,1533.7 984.3,1532.7 984.3,1531.7 984.4,1530.7 984.4,1529.7 984.4,1528.7 984.4,1527.7 984.4,1526.7 984.4,1525.7 984.4,1524.7 984.4,1523.7 984.4,1522.7 984.4,1521.7 984.5,1520.7 984.5,1519.7 984.5,1518.7 984.5,1517.7 984.5,1516.7 984.5,1515.7 984.5,1514.7 984.5,1513.7 984.5,1512.7 984.6,1511.7 984.6,1510.7 984.6,1509.7 984.6,1508.7 984.6,1507.7 984.6,1506.7 984.6,1505.7 984.6,1504.7 984.7,1503.7 984.7,1502.7 984.7,1501.7 984.7,1500.7 984.7,1499.7 984.7,1498.7 984.7,1497.7 984.8,1496.7 984.8,1495.7 984.8,1494.7 984.8,1493.7 984.8,1492.7 984.8,1491.7 984.8,1490.7 984.9,1489.7 984.9,1488.7 984.9,1487.7 984.9,1486.7 984.9,1485.7 985,1484.7 985,1483.7 985,1482.7 985,1481.7 985,1480.7 985,1479.7 985.1,1478.7 985.1,1477.7 985.1,1476.7 985.1,1475.7 985.2,1474.7 985.2,1473.7 985.2,1472.7 985.2,1471.7 985.3,1470.7 985.3,1469.7 985.3,1468.7 985.4,1467.7 985.4,1466.7 985.4,1465.7 985.5,1464.7 985.5,1463.7 985.6,1462.7 985.6,1461.7 985.7,1460.7 985.7,1459.7 985.8,1458.7 985.9,1457.7 985.9,1456.7 986,1455.7 986,1454.7 986.1,1453.7 986.2,1452.7 986.2,1451.7 986.3,1450.7 986.4,1449.7 986.4,1448.7 986.5,1447.7 986.5,1446.7 986.6,1445.7 986.7,1444.7 986.7,1443.7 986.8,1442.7 986.8,1441.7 986.9,1440.7 986.9,1439.7 987,1438.7 987,1437.7 987.1,1436.7 987.1,1435.7 987.2,1434.7 987.2,1433.7 987.3,1432.7 987.3,1431.7 987.3,1430.7 987.3,1429.7 987.4,1428.7 987.4,1427.7 987.4,1426.7 987.4,1425.7 987.4,1424.7 987.5,1423.7 987.5,1422.7 987.5,1421.7 987.5,1420.7 987.5,1419.7 987.5,1418.7 987.5,1417.7 987.5,1416.7 987.5,1415.7 987.6,1414.7 987.6,1413.7 987.6,1412.7 987.6,1411.7 987.6,1410.7 987.6,1409.7 987.6,1408.7 987.6,1407.7 987.6,1406.7 987.6,1405.7 987.6,1404.7 987.7,1403.7 987.7,1402.7 987.7,1401.7 987.7,1400.7 987.7,1399.7 987.7,1398.7 987.7,1397.7 987.7,1396.7 987.8,1395.7 987.8,1394.7 987.8,1393.7 987.8,1392.7 987.8,1391.7 987.8,1390.7 987.9,1389.7 987.9,1388.7 987.9,1387.7 987.9,1386.7 987.9,1385.7 987.9,1384.7 988,1383.7 988,1382.7 988,1381.7 988,1380.7 988,1379.7 988.1,1378.7 988.1,1377.7 988.1,1376.7 988.1,1375.7 988.2,1374.7 988.2,1373.7 988.2,1372.7 988.2,1371.7 988.3,1370.7 988.3,1369.7 988.3,1368.7 988.3,1367.7 988.4,1366.7 988.4,1365.7 988.5,1364.7 988.5,1363.7 988.5,1362.7 988.6,1361.7 988.6,1360.7 988.7,1359.7 988.7,1358.7 988.8,1357.7 988.8,1356.7 988.9,1355.7 988.9,1354.7 989,1353.7 989,1352.7 989.1,1351.7 989.2,1350.7 989.2,1349.7 989.3,1348.7 989.3,1347.7 989.4,1346.7 989.5,1345.7 989.5,1344.7 989.6,1343.7 989.7,1342.7 989.7,1341.7 989.8,1340.7 989.9,1339.7 989.9,1338.7 990,1337.7 990.1,1336.7 990.2,1335.7 990.2,1334.7 990.3,1333.7 990.4,1332.6 990.4,1331.6 990.5,1330.6 990.6,1329.6 990.7,1328.5 990.7,1327.5 990.8,1326.5 990.9,1325.5 991,1324.5 991.1,1323.5 991.3,1322.6 991.4,1321.6 991.5,1320.6 991.7,1319.6 991.8,1318.8 992,1317.7 992.3,1317 992.6,1315.8 993,1315.3 993.5,1314.1 994,1313.2 994.6,1312.1 995.3,1310.3 995.9,1308.6 996.6,1307.6 997.3,1306.9 998,1306 998.8,1305.8 999.5,1305.3 1000.2,1307.1 1001,1307.3 1002,1309 1003,1309.7 1004,1310 1005,1307.9 1006,1308.2 1006.9,1308 1007.7,1306.5 1008.4,1308.7 1009.2,1307.9 1009.9,1307.2 1010.6,1307.9 1011.3,1307 1011.9,1306.2 1012.5,1305.3 1013.1,1303.9 1013.6,1302.9 1014.1,1301.4 1014.5,1300.7 1014.9,1299.7 1015.2,1298.7 1015.5,1297.8 1015.7,1296.8 1016,1295.8 1016.2,1294.9 1016.4,1293.9 1016.6,1292.9 1016.8,1291.8 1017,1290.8 1017.2,1289.8 1017.4,1288.7 1017.7,1287.7 1017.9,1286.7 1018.2,1285.7 1018.5,1284.5 1018.9,1283.8 1019.2,1282.8 1019.6,1282 1020,1281.2 1020.4,1280.2 1020.8,1279.6 1021.3,1278.7 1021.7,1277.7 1022.1,1276.5 1022.5,1275.6 1022.9,1275.1 1023.3,1274.2 1023.7,1273.3 1024,1272 1024.4,1270.9 1024.7,1270.5 1025,1269.4 1025.3,1268.5 1025.6,1267.4 1026,1266.3 1026.3,1265.5 1026.6,1264.6 1026.9,1263.9 1027.2,1263 1027.5,1262 1027.8,1261.3 1028.1,1260.7 1028.4,1259.6 1028.8,1258.4 1029.1,1257.3 1029.4,1256.1 1029.8,1255.1 1030.1,1254.3 1030.4,1253.1 1030.8,1252.5 1031.1,1251.6 1031.5,1250.8 1031.9,1249.7 1032.2,1248.6 1032.6,1247.2 1032.9,1246 1033.3,1245.2 1033.7,1244.4 1034,1244.1 1034.4,1243.4 1034.7,1242.3 1035.1,1241.7 1035.4,1240.5 1035.7,1239.3 1036,1238.2 1036.3,1237 1036.6,1235.9 1036.9,1235.1 1037.2,1233.9 1037.5,1232.7 1037.9,1232.1 1038.2,1231.3 1038.6,1230 1039,1229.7 1039.4,1228.3 1039.9,1228.1 1040.4,1227.5 1041,1226.4 1041.7,1224.7 1042.4,1223.8 1043.2,1222 1044.1,1221.6 1044.9,1221.1 1045.8,1221.6 1046.7,1222.1 1047.5,1223.7 1048.3,1223.4 1049.2,1223.5 1050,1222.5 1050.9,1224.4 1051.8,1224.5 1052.7,1225.8 1053.5,1227 1054.4,1227.3 1055.2,1225.8 1056,1225.7 1056.8,1225.5 1057.5,1224.5 1058.3,1223.9 1059,1223 1059.8,1221.8 1060.5,1220.3 1061.3,1219.4 1062.1,1219.2 1062.9,1218 1063.7,1219.6 1064.6,1218.4 1065.5,1219.1 1066.4,1219 1067.4,1218.7 1068.3,1216.7 1069.3,1216.2 1070.3,1215.3 1071.3,1216.7 1072.4,1216.8 1073.4,1215.8 1074.4,1218 1075.5,1217.8 1076.5,1216.1 1077.6,1216 1078.6,1217 1079.6,1217.1 1080.6,1218.7 1081.6,1220.2 1082.6,1219.9 1083.6,1220.5 1084.6,1220.8 1085.6,1221.6 1086.6,1220.2 1087.6,1219.9 1088.6,1219 1089.6,1220.1 1090.5,1219 1091.5,1218.9 1092.5,1220.7 1093.5,1221.5 1094.5,1220.6 1095.5,1220.8 1096.5,1221.4 1097.5,1219.7 1098.5,1221.1 1099.5,1220.1 1100.5,1222 1101.5,1220.2 1102.5,1219.4 1103.5,1219.7 1104.5,1222.3 1105.5,1220.8 1106.5,1222 1107.5,1222.8 1108.5,1223.4 1109.5,1223.8 1110.5,1223.5 1111.5,1222.5 1112.5,1222 1113.5,1222.8 1114.5,1221.9 1115.5,1221.5 1116.5,1221.8 1117.5,1220.8 1118.5,1221.7 1119.5,1222.5 1120.5,1220.9 1121.5,1222.7 1122.5,1219.8 1123.5,1220.1 1124.5,1220.3 1125.5,1220.5 1126.6,1220.3 1127.6,1220.3 1128.6,1221 1129.6,1220.2 1130.6,1221.1 1131.6,1221 1132.6,1220.9 1133.6,1221.4 1134.6,1220.4 1135.6,1221 1136.6,1220.1 1137.6,1218.3 1138.6,1219.8 1139.6,1218.4 1140.6,1219.4 1141.6,1219.3 1142.5,1219.7 1143.5,1219.8 1144.5,1219.3 1145.4,1219.5 1146.4,1219 1147.3,1218.8 1148.2,1217.7 1149.1,1217.8 1150,1215.6 1150.9,1216.5 1151.8,1217.6 1152.7,1215.3 1153.7,1215.4 1154.6,1215.5 1155.5,1216.5 1156.5,1216.8 1157.5,1217.6 1158.4,1218.1 1159.4,1218.7 1160.4,1218.4 1161.4,1218.6 1162.3,1217.6 1163.3,1217.7 1164.3,1216.8 1165.3,1216.7 1166.3,1217.4 1167.3,1217.8 1168.3,1218.4 1169.3,1218.2 1170.3,1217.2 1171.3,1218.2 1172.3,1218.2 1173.2,1219.3 1174.2,1216.6 1175.2,1217.6 1176.2,1218.3 1177.2,1218.8 1178.1,1219.8 1179.1,1218.6 1180.1,1218 1181.1,1218.4 1182.1,1217 1183,1215 1184,1216 1185,1216.1 1186,1214.8 1187,1213.4 1188,1214.3 1188.9,1213.7 1189.9,1214.6 1190.9,1216.1 1191.9,1217.7 1192.9,1216.5 1193.9,1216 1194.9,1214.9 1195.9,1216.7 1196.9,1216.7 1197.9,1218.4 1198.9,1217.7 1199.9,1217.3 1200.9,1216.3 1201.9,1215.7 1202.9,1216.1 1203.9,1218.6 1204.9,1219 1205.9,1218.3 1206.9,1217.5 1207.9,1218.7 1208.9,1217.5 1209.9,1218.2 1210.8,1218.6 1211.8,1217.6 1212.8,1218.3 1213.8,1218.4 1214.8,1217.8 1215.8,1218 1216.8,1217.7 1217.8,1215.6 1218.7,1217.8 1219.7,1218.6 1220.7,1217.5 1221.7,1218 1222.7,1215.7 1223.7,1216 1224.6,1214.7 1225.6,1214.5 1226.6,1215.1 1227.6,1216.8 1228.6,1217.8 1229.6,1215.4 1230.6,1216.6 1231.6,1216.1 1232.6,1215.3 1233.6,1213.1 1234.6,1213.5 1235.6,1212.9 1236.6,1211.8 1237.6,1212.1 1238.6,1214.7 1239.6,1212.9 1240.6,1213.7 1241.6,1213.2 1242.6,1214.6 1243.6,1215.6 1244.6,1214.5 1245.6,1213.2 1246.6,1213.6 1247.6,1213.7 1248.6,1213.7 1249.6,1212.7 1250.6,1214.4 1251.6,1214.4 1252.6,1215.3 1253.6,1213.5 1254.6,1212 1255.6,1211.5 1256.6,1209.3 1257.6,1210.9 1258.6,1212.9 1259.6,1210.6 1260.6,1212.6 1261.6,1214.3 1262.6,1217 1263.6,1214.3 1264.6,1214.9 1265.6,1213.5 1266.6,1214.5 1267.6,1212.8 1268.6,1214.4 1269.6,1212.2 1270.6,1213.9 1271.6,1213.6 1272.6,1214.7 1273.6,1214.6 1274.6,1215.4 1275.6,1217 1276.6,1215.4 1277.6,1216.7 1278.6,1215.1 1279.6,1213.2 1280.6,1213.6 1281.6,1214.7 1282.6,1214.8 1283.6,1216.3 1284.6,1215.9 1285.6,1214.3 1286.6,1215.7 1287.6,1215.9 1288.6,1215.2 1289.6,1215.1 1290.6,1214.6 1291.6,1213.8 1292.6,1214.5 1293.6,1214.4 1294.6,1212.8 1295.6,1213.3 1296.6,1211.5 1297.6,1213.1 1298.6,1211.5 1299.6,1212.1 1300.6,1212.7 1301.5,1211.7 1302.5,1212.2 1303.5,1213.2 1304.5,1212.7 1305.5,1214 1306.5,1215.3 1307.5,1214.7 1308.5,1213.5 1309.4,1213.2 1310.4,1213 1311.4,1213.8 1312.4,1214.9 1313.3,1213.8 1314.3,1215.5 1315.2,1216.3 1316.2,1217.6 1317.1,1215.3 1318.1,1214.9 1319,1215.1 1319.9,1213.6 1320.8,1213.5 1321.7,1212.1 1322.7,1210.9 1323.6,1211.1 1324.5,1212.2 1325.4,1212.3 1326.4,1212.3 1327.3,1212.1 1328.2,1212.9 1329.2,1212.7 1330.2,1211.7 1331.1,1211.1 1332.1,1209.7 1333.1,1208.1 1334.1,1209.2 1335.1,1209.1 1336.1,1208.9 1337.1,1208.5 1338.1,1208.4 1339.1,1210.3 1340.1,1209.8 1341.1,1209 1342.1,1210.5 1343.1,1209.8 1344.2,1209.9 1345.2,1209.1 1346.2,1209.6 1347.2,1210 1348.2,1210.2 1349.2,1211.3 1350.2,1210.5 1351.2,1213.2 1352.2,1210.7 1353.2,1213 1354.2,1213.2 1355.2,1212.1 1356.2,1212.5 1357.2,1211.6 1358.2,1212.2 1359.2,1212.7 1360.2,1211.7 1361.1,1211.7 1362.1,1213.3 1363.1,1213.4 1364.1,1213.5 1365.1,1214.1 1366.1,1213.4 1367.1,1215.3 1368.1,1215.5 1369.1,1215 1370.1,1214.7 1371.1,1216.2 1372.1,1217.2 1373,1217.7 1374,1217.4 1375,1216.7 1376,1214.2 1377,1213.3 1378,1214 1379,1214 1380,1215.5 1381,1213.9 1382,1214.9 1383,1214 1384,1212.9 1385,1213.1 1386,1212.9 1387,1211.4 1388,1211.4 1389,1210.8 1390,1210.7 1391,1211.2 1392,1212.4 1393,1213.6 1394,1215.4 1395,1212.8 1396,1212.1 1397,1210.1 1398,1211.4 1399,1210.5 1399.9,1210.5 1400.9,1210.9 1401.9,1211.8 1402.8,1212.3 1403.8,1213.6 1404.8,1214 1405.7,1212.3 1406.7,1211.2 1407.6,1210.8 1408.6,1212.9 1409.5,1213.2 1410.5,1214 1411.4,1214.5 1412.4,1214.4 1413.3,1214.1 1414.3,1214.1 1415.2,1212.1 1416.2,1211.8 1417.1,1211.3 1418.1,1211.2 1419,1211.4 1420,1211.2 1420.9,1212 1421.8,1210.7 1422.8,1212.7 1423.7,1209.4 1424.7,1210.6 1425.6,1208.3 1426.6,1209 1427.6,1211 1428.5,1214.4 1429.5,1217.5 1430.4,1215.1 1431.4,1212.1 1432.4,1209.1 1433.4,1207.9 1434.3,1208.8 1435.3,1209.8 1436.3,1211.3 1437.3,1212.1 1438.3,1211.3 1439.3,1210.7 1440.3,1212.1 1441.2,1213.4 1442.2,1212.3 1443.2,1213.5 1444.2,1212.2 1445.2,1211.9 1446.2,1212.8 1447.2,1210.8 1448.1,1211.3 1449.1,1209.1 1450.1,1210.1 1451.1,1211.5 1452.1,1211.1 1453.1,1211.2 1454.1,1212.4 1455.1,1211.6 1456.1,1211.6 1457,1211.5 1458,1210.4 1459,1209.3 1460,1208 1461,1208.9 1462,1208.4" fill="none" stroke="#000" stroke-width="4.3" stroke-linejoin="miter" stroke-linecap="butt" stroke-miterlimit="3"/>
<polyline points="261.3,1078.5 261.3,1449.5 931.3,1449.5 931.3,1078.8" fill="none" stroke="#000" stroke-width="3.5" stroke-linejoin="round" stroke-linecap="butt" />
<polyline points="979,1786 1045.5,1702 1229.2,1702" fill="none" stroke="#000" stroke-width="3.5" stroke-linejoin="round" stroke-linecap="butt" />
<text x="0" y="0" font-size="53.5" text-anchor="start" font-weight="normal" transform="translate(211.9 1513.9) scale(1.0 1.03)" >3.21</text>
<text x="0" y="0" font-size="53.5" text-anchor="start" font-weight="normal" transform="translate(863.5 1501) scale(1.0 1.03)" >2.05</text>
<text x="0" y="0" font-size="53.5" text-anchor="start" font-weight="normal" transform="translate(1072 1697) scale(1.0 1.03)" >2.00</text>
<g>
<text x="0" y="0" font-size="50" text-anchor="start" font-weight="normal" transform="translate(1231.5 1125) scale(1.656 1.0001)" >-</text>
<text x="1418.4" y="1122.6" font-size="54" text-anchor="end" font-weight="normal" >oleate</text>
</g>
<text x="1428.2" y="1303.7" font-size="54" text-anchor="end" font-weight="normal" >+ oleate</text>
</g>
</svg>
</body>
</html>
